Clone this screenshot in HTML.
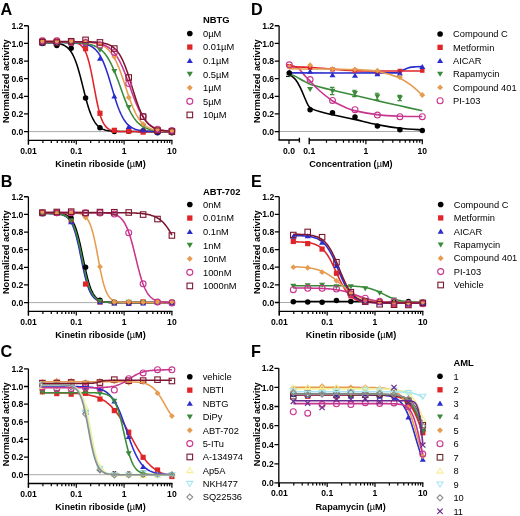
<!DOCTYPE html><html><head><meta charset="utf-8"><style>html,body{margin:0;padding:0;background:#fff;width:520px;height:516px;overflow:hidden}svg{display:block;filter:blur(0.3px)}text{font-family:"Liberation Sans",sans-serif;fill:#000}</style></head><body>
<svg width="520" height="516" viewBox="0 0 520 516">
<rect width="520" height="516" fill="#fff"/>
<text x="0.5" y="14.7" font-size="16.2" text-anchor="start" font-weight="bold" >A</text>
<text x="0.7" y="186.6" font-size="16.2" text-anchor="start" font-weight="bold" >B</text>
<text x="0.5" y="357.4" font-size="16.2" text-anchor="start" font-weight="bold" >C</text>
<text x="250.9" y="14.7" font-size="16.2" text-anchor="start" font-weight="bold" >D</text>
<text x="251" y="186.5" font-size="16.2" text-anchor="start" font-weight="bold" >E</text>
<text x="251" y="357.4" font-size="16.2" text-anchor="start" font-weight="bold" >F</text>
<path d="M28.5 131.6H171.9" stroke="#a0a0a0" stroke-width="0.9" fill="none"/>
<path d="M28.4 25.7V144.6" stroke="#000" stroke-width="1.3" fill="none"/>
<path d="M24 131.6H28.4M24 113.96H28.4M24 96.32H28.4M24 78.68H28.4M24 61.04H28.4M24 43.4H28.4M24 25.76H28.4" stroke="#000" stroke-width="1.3" fill="none"/>
<text x="23.4" y="134.7" font-size="8.6" text-anchor="end" font-weight="bold" >0.0</text>
<text x="23.4" y="117.06" font-size="8.6" text-anchor="end" font-weight="bold" >0.2</text>
<text x="23.4" y="99.42" font-size="8.6" text-anchor="end" font-weight="bold" >0.4</text>
<text x="23.4" y="81.78" font-size="8.6" text-anchor="end" font-weight="bold" >0.6</text>
<text x="23.4" y="64.14" font-size="8.6" text-anchor="end" font-weight="bold" >0.8</text>
<text x="23.4" y="46.5" font-size="8.6" text-anchor="end" font-weight="bold" >1.0</text>
<text x="23.4" y="28.86" font-size="8.6" text-anchor="end" font-weight="bold" >1.2</text>
<path d="M27.85 140.4H172.55" stroke="#000" stroke-width="1.4" fill="none"/>
<path d="M28.5 140.4V144.6M42.89 140.4V143.1M51.31 140.4V143.1M57.28 140.4V143.1M61.91 140.4V143.1M65.7 140.4V143.1M68.9 140.4V143.1M71.67 140.4V143.1M74.11 140.4V143.1M76.3 140.4V144.6M90.69 140.4V143.1M99.11 140.4V143.1M105.08 140.4V143.1M109.71 140.4V143.1M113.5 140.4V143.1M116.7 140.4V143.1M119.47 140.4V143.1M121.91 140.4V143.1M124.1 140.4V144.6M138.49 140.4V143.1M146.91 140.4V143.1M152.88 140.4V143.1M157.51 140.4V143.1M161.3 140.4V143.1M164.5 140.4V143.1M167.27 140.4V143.1M169.71 140.4V143.1M171.9 140.4V144.6" stroke="#000" stroke-width="1.2" fill="none"/>
<text x="28.5" y="153.6" font-size="8.6" text-anchor="middle" font-weight="bold" >0.01</text>
<text x="76.3" y="153.6" font-size="8.6" text-anchor="middle" font-weight="bold" >0.1</text>
<text x="124.1" y="153.6" font-size="8.6" text-anchor="middle" font-weight="bold" >1</text>
<text x="171.9" y="153.6" font-size="8.6" text-anchor="middle" font-weight="bold" >10</text>
<text transform="translate(9.4 81.2) rotate(-90)" x="0" y="0" font-size="9.2" text-anchor="middle" font-weight="bold">Normalized activity</text>
<text x="100.5" y="167" font-size="9.15" text-anchor="middle" font-weight="bold" >Kinetin riboside (<tspan font-weight="normal">µ</tspan>M)</text>
<path d="M42.36 42.58L43.44 42.59L44.52 42.6L45.6 42.62L46.68 42.64L47.76 42.67L48.84 42.7L49.92 42.74L51 42.79L52.08 42.85L53.16 42.92L54.24 43.01L55.32 43.12L56.4 43.24L57.48 43.4L58.56 43.58L59.64 43.81L60.71 44.08L61.79 44.41L62.87 44.81L63.95 45.29L65.03 45.87L66.11 46.55L67.19 47.37L68.27 48.35L69.35 49.51L70.43 50.87L71.51 52.47L72.59 54.33L73.67 56.47L74.75 58.93L75.83 61.7L76.91 64.8L77.99 68.21L79.07 71.91L80.15 75.87L81.22 80.03L82.3 84.32L83.38 88.66L84.46 92.96L85.54 97.16L86.62 101.18L87.7 104.96L88.78 108.45L89.86 111.63L90.94 114.49L92.02 117.03L93.1 119.25L94.18 121.18L95.26 122.85L96.34 124.27L97.42 125.48L98.5 126.5L99.58 127.36L100.66 128.08L101.73 128.69L102.81 129.19L103.89 129.61L104.97 129.95L106.05 130.24L107.13 130.48L108.21 130.67L109.29 130.84L110.37 130.97L111.45 131.08L112.53 131.17L113.61 131.25L114.69 131.31L115.77 131.36L116.85 131.4L117.93 131.44L119.01 131.47L120.09 131.49L121.16 131.51L122.24 131.53L123.32 131.54L124.4 131.55L125.48 131.56L126.56 131.57L127.64 131.57L128.72 131.58L129.8 131.58L130.88 131.58L131.96 131.59L133.04 131.59L134.12 131.59L135.2 131.59L136.28 131.59L137.36 131.6L138.44 131.6L139.52 131.6L140.6 131.6L141.67 131.6L142.75 131.6L143.83 131.6L144.91 131.6L145.99 131.6L147.07 131.6L148.15 131.6L149.23 131.6L150.31 131.6L151.39 131.6L152.47 131.6L153.55 131.6L154.63 131.6L155.71 131.6L156.79 131.6L157.87 131.6L158.95 131.6L160.03 131.6L161.11 131.6L162.18 131.6L163.26 131.6L164.34 131.6L165.42 131.6L166.5 131.6L167.58 131.6L168.66 131.6L169.74 131.6L170.82 131.6L171.9 131.6" stroke="#000000" stroke-width="1.55" fill="none"/>
<path d="M42.36 41.64L43.44 41.64L44.52 41.64L45.6 41.64L46.68 41.64L47.76 41.64L48.84 41.64L49.92 41.64L51 41.64L52.08 41.64L53.16 41.64L54.24 41.64L55.32 41.64L56.4 41.65L57.48 41.65L58.56 41.65L59.64 41.66L60.71 41.67L61.79 41.67L62.87 41.69L63.95 41.7L65.03 41.72L66.11 41.74L67.19 41.78L68.27 41.82L69.35 41.87L70.43 41.94L71.51 42.03L72.59 42.15L73.67 42.3L74.75 42.49L75.83 42.74L76.91 43.07L77.99 43.48L79.07 44.01L80.15 44.7L81.22 45.57L82.3 46.67L83.38 48.06L84.46 49.79L85.54 51.93L86.62 54.55L87.7 57.7L88.78 61.42L89.86 65.73L90.94 70.58L92.02 75.9L93.1 81.56L94.18 87.38L95.26 93.18L96.34 98.77L97.42 103.98L98.5 108.69L99.58 112.84L100.66 116.41L101.73 119.42L102.81 121.91L103.89 123.94L104.97 125.57L106.05 126.88L107.13 127.92L108.21 128.73L109.29 129.37L110.37 129.87L111.45 130.26L112.53 130.57L113.61 130.8L114.69 130.98L115.77 131.12L116.85 131.23L117.93 131.32L119.01 131.38L120.09 131.43L121.16 131.47L122.24 131.5L123.32 131.52L124.4 131.54L125.48 131.55L126.56 131.56L127.64 131.57L128.72 131.58L129.8 131.58L130.88 131.59L131.96 131.59L133.04 131.59L134.12 131.59L135.2 131.6L136.28 131.6L137.36 131.6L138.44 131.6L139.52 131.6L140.6 131.6L141.67 131.6L142.75 131.6L143.83 131.6L144.91 131.6L145.99 131.6L147.07 131.6L148.15 131.6L149.23 131.6L150.31 131.6L151.39 131.6L152.47 131.6L153.55 131.6L154.63 131.6L155.71 131.6L156.79 131.6L157.87 131.6L158.95 131.6L160.03 131.6L161.11 131.6L162.18 131.6L163.26 131.6L164.34 131.6L165.42 131.6L166.5 131.6L167.58 131.6L168.66 131.6L169.74 131.6L170.82 131.6L171.9 131.6" stroke="#e02428" stroke-width="1.55" fill="none"/>
<path d="M42.36 42.52L43.44 42.52L44.52 42.52L45.6 42.52L46.68 42.52L47.76 42.52L48.84 42.52L49.92 42.53L51 42.53L52.08 42.53L53.16 42.53L54.24 42.53L55.32 42.54L56.4 42.54L57.48 42.54L58.56 42.55L59.64 42.55L60.71 42.56L61.79 42.56L62.87 42.57L63.95 42.58L65.03 42.59L66.11 42.61L67.19 42.62L68.27 42.64L69.35 42.66L70.43 42.69L71.51 42.72L72.59 42.75L73.67 42.8L74.75 42.84L75.83 42.9L76.91 42.97L77.99 43.05L79.07 43.14L80.15 43.25L81.22 43.38L82.3 43.54L83.38 43.72L84.46 43.93L85.54 44.17L86.62 44.46L87.7 44.8L88.78 45.19L89.86 45.65L90.94 46.18L92.02 46.8L93.1 47.52L94.18 48.36L95.26 49.32L96.34 50.42L97.42 51.68L98.5 53.12L99.58 54.75L100.66 56.58L101.73 58.63L102.81 60.9L103.89 63.41L104.97 66.14L106.05 69.09L107.13 72.24L108.21 75.57L109.29 79.04L110.37 82.62L111.45 86.25L112.53 89.89L113.61 93.5L114.69 97.02L115.77 100.42L116.85 103.65L117.93 106.69L119.01 109.52L120.09 112.13L121.16 114.51L122.24 116.66L123.32 118.58L124.4 120.3L125.48 121.82L126.56 123.16L127.64 124.33L128.72 125.35L129.8 126.24L130.88 127.01L131.96 127.67L133.04 128.24L134.12 128.73L135.2 129.15L136.28 129.51L137.36 129.82L138.44 130.09L139.52 130.31L140.6 130.5L141.67 130.67L142.75 130.81L143.83 130.93L144.91 131.03L145.99 131.11L147.07 131.19L148.15 131.25L149.23 131.3L150.31 131.35L151.39 131.38L152.47 131.42L153.55 131.44L154.63 131.47L155.71 131.49L156.79 131.51L157.87 131.52L158.95 131.53L160.03 131.54L161.11 131.55L162.18 131.56L163.26 131.56L164.34 131.57L165.42 131.57L166.5 131.58L167.58 131.58L168.66 131.58L169.74 131.59L170.82 131.59L171.9 131.59" stroke="#2a2ccc" stroke-width="1.55" fill="none"/>
<path d="M42.36 42.52L43.44 42.52L44.52 42.52L45.6 42.53L46.68 42.53L47.76 42.53L48.84 42.53L49.92 42.53L51 42.53L52.08 42.54L53.16 42.54L54.24 42.54L55.32 42.54L56.4 42.55L57.48 42.55L58.56 42.56L59.64 42.56L60.71 42.57L61.79 42.58L62.87 42.58L63.95 42.59L65.03 42.61L66.11 42.62L67.19 42.63L68.27 42.65L69.35 42.67L70.43 42.69L71.51 42.71L72.59 42.74L73.67 42.77L74.75 42.81L75.83 42.85L76.91 42.9L77.99 42.96L79.07 43.02L80.15 43.09L81.22 43.18L82.3 43.27L83.38 43.38L84.46 43.5L85.54 43.64L86.62 43.8L87.7 43.98L88.78 44.19L89.86 44.43L90.94 44.7L92.02 45.01L93.1 45.36L94.18 45.75L95.26 46.2L96.34 46.71L97.42 47.28L98.5 47.93L99.58 48.66L100.66 49.48L101.73 50.4L102.81 51.43L103.89 52.57L104.97 53.84L106.05 55.25L107.13 56.79L108.21 58.49L109.29 60.34L110.37 62.35L111.45 64.51L112.53 66.82L113.61 69.28L114.69 71.88L115.77 74.6L116.85 77.42L117.93 80.33L119.01 83.3L120.09 86.3L121.16 89.31L122.24 92.3L123.32 95.24L124.4 98.11L125.48 100.89L126.56 103.55L127.64 106.08L128.72 108.47L129.8 110.71L130.88 112.79L131.96 114.72L133.04 116.49L134.12 118.11L135.2 119.59L136.28 120.93L137.36 122.13L138.44 123.22L139.52 124.19L140.6 125.06L141.67 125.83L142.75 126.52L143.83 127.13L144.91 127.67L145.99 128.15L147.07 128.57L148.15 128.94L149.23 129.27L150.31 129.56L151.39 129.81L152.47 130.03L153.55 130.23L154.63 130.4L155.71 130.55L156.79 130.68L157.87 130.8L158.95 130.9L160.03 130.98L161.11 131.06L162.18 131.13L163.26 131.19L164.34 131.24L165.42 131.29L166.5 131.33L167.58 131.36L168.66 131.39L169.74 131.42L170.82 131.44L171.9 131.46" stroke="#3a8a3a" stroke-width="1.55" fill="none"/>
<path d="M42.36 41.64L43.44 41.64L44.52 41.64L45.6 41.64L46.68 41.64L47.76 41.64L48.84 41.64L49.92 41.64L51 41.64L52.08 41.64L53.16 41.64L54.24 41.64L55.32 41.64L56.4 41.64L57.48 41.65L58.56 41.65L59.64 41.65L60.71 41.65L61.79 41.65L62.87 41.66L63.95 41.66L65.03 41.66L66.11 41.67L67.19 41.67L68.27 41.68L69.35 41.68L70.43 41.69L71.51 41.7L72.59 41.71L73.67 41.72L74.75 41.73L75.83 41.75L76.91 41.76L77.99 41.78L79.07 41.81L80.15 41.83L81.22 41.86L82.3 41.9L83.38 41.94L84.46 41.99L85.54 42.04L86.62 42.11L87.7 42.18L88.78 42.27L89.86 42.36L90.94 42.48L92.02 42.61L93.1 42.76L94.18 42.93L95.26 43.13L96.34 43.36L97.42 43.63L98.5 43.93L99.58 44.28L100.66 44.68L101.73 45.14L102.81 45.66L103.89 46.26L104.97 46.94L106.05 47.72L107.13 48.6L108.21 49.59L109.29 50.72L110.37 51.98L111.45 53.38L112.53 54.95L113.61 56.69L114.69 58.61L115.77 60.7L116.85 62.98L117.93 65.44L119.01 68.08L120.09 70.87L121.16 73.82L122.24 76.88L123.32 80.05L124.4 83.28L125.48 86.55L126.56 89.82L127.64 93.06L128.72 96.23L129.8 99.3L130.88 102.25L131.96 105.05L133.04 107.69L134.12 110.16L135.2 112.45L136.28 114.55L137.36 116.47L138.44 118.22L139.52 119.79L140.6 121.21L141.67 122.47L142.75 123.6L143.83 124.6L144.91 125.48L145.99 126.26L147.07 126.95L148.15 127.55L149.23 128.08L150.31 128.54L151.39 128.94L152.47 129.29L153.55 129.6L154.63 129.86L155.71 130.1L156.79 130.3L157.87 130.47L158.95 130.62L160.03 130.75L161.11 130.87L162.18 130.97L163.26 131.05L164.34 131.13L165.42 131.19L166.5 131.24L167.58 131.29L168.66 131.33L169.74 131.37L170.82 131.4L171.9 131.43" stroke="#e69c50" stroke-width="1.55" fill="none"/>
<path d="M42.36 41.64L43.44 41.64L44.52 41.64L45.6 41.64L46.68 41.64L47.76 41.64L48.84 41.64L49.92 41.64L51 41.64L52.08 41.64L53.16 41.64L54.24 41.64L55.32 41.64L56.4 41.65L57.48 41.65L58.56 41.65L59.64 41.65L60.71 41.65L61.79 41.65L62.87 41.66L63.95 41.66L65.03 41.66L66.11 41.67L67.19 41.67L68.27 41.68L69.35 41.68L70.43 41.69L71.51 41.7L72.59 41.7L73.67 41.71L74.75 41.73L75.83 41.74L76.91 41.75L77.99 41.77L79.07 41.79L80.15 41.81L81.22 41.84L82.3 41.87L83.38 41.9L84.46 41.94L85.54 41.98L86.62 42.03L87.7 42.09L88.78 42.16L89.86 42.23L90.94 42.32L92.02 42.42L93.1 42.53L94.18 42.65L95.26 42.8L96.34 42.97L97.42 43.16L98.5 43.37L99.58 43.62L100.66 43.9L101.73 44.21L102.81 44.58L103.89 44.99L104.97 45.45L106.05 45.98L107.13 46.57L108.21 47.24L109.29 47.99L110.37 48.84L111.45 49.79L112.53 50.85L113.61 52.03L114.69 53.33L115.77 54.78L116.85 56.37L117.93 58.11L119.01 60.01L120.09 62.07L121.16 64.28L122.24 66.65L123.32 69.16L124.4 71.81L125.48 74.58L126.56 77.45L127.64 80.4L128.72 83.41L129.8 86.44L130.88 89.48L131.96 92.49L133.04 95.45L134.12 98.33L135.2 101.11L136.28 103.77L137.36 106.3L138.44 108.69L139.52 110.92L140.6 112.99L141.67 114.91L142.75 116.67L143.83 118.28L144.91 119.74L145.99 121.06L147.07 122.26L148.15 123.33L149.23 124.29L150.31 125.15L151.39 125.91L152.47 126.59L153.55 127.2L154.63 127.73L155.71 128.2L156.79 128.62L157.87 128.98L158.95 129.3L160.03 129.59L161.11 129.84L162.18 130.06L163.26 130.25L164.34 130.42L165.42 130.57L166.5 130.69L167.58 130.81L168.66 130.91L169.74 130.99L170.82 131.07L171.9 131.14" stroke="#c8348e" stroke-width="1.55" fill="none"/>
<path d="M42.36 41.64L43.44 41.64L44.52 41.64L45.6 41.64L46.68 41.64L47.76 41.64L48.84 41.64L49.92 41.64L51 41.64L52.08 41.64L53.16 41.64L54.24 41.64L55.32 41.64L56.4 41.64L57.48 41.64L58.56 41.64L59.64 41.64L60.71 41.64L61.79 41.64L62.87 41.64L63.95 41.64L65.03 41.64L66.11 41.64L67.19 41.64L68.27 41.65L69.35 41.65L70.43 41.65L71.51 41.65L72.59 41.65L73.67 41.66L74.75 41.66L75.83 41.66L76.91 41.67L77.99 41.67L79.07 41.68L80.15 41.69L81.22 41.69L82.3 41.7L83.38 41.72L84.46 41.73L85.54 41.75L86.62 41.76L87.7 41.79L88.78 41.81L89.86 41.84L90.94 41.88L92.02 41.92L93.1 41.96L94.18 42.02L95.26 42.08L96.34 42.16L97.42 42.24L98.5 42.34L99.58 42.46L100.66 42.6L101.73 42.76L102.81 42.95L103.89 43.17L104.97 43.42L106.05 43.72L107.13 44.06L108.21 44.45L109.29 44.91L110.37 45.44L111.45 46.05L112.53 46.76L113.61 47.56L114.69 48.49L115.77 49.54L116.85 50.74L117.93 52.1L119.01 53.63L120.09 55.35L121.16 57.26L122.24 59.38L123.32 61.71L124.4 64.25L125.48 66.99L126.56 69.92L127.64 73.03L128.72 76.29L129.8 79.67L130.88 83.13L131.96 86.63L133.04 90.13L134.12 93.59L135.2 96.97L136.28 100.22L137.36 103.33L138.44 106.27L139.52 109.01L140.6 111.54L141.67 113.87L142.75 115.98L143.83 117.9L144.91 119.61L145.99 121.14L147.07 122.5L148.15 123.7L149.23 124.75L150.31 125.68L151.39 126.48L152.47 127.19L153.55 127.8L154.63 128.33L155.71 128.78L156.79 129.18L157.87 129.52L158.95 129.82L160.03 130.07L161.11 130.29L162.18 130.47L163.26 130.64L164.34 130.77L165.42 130.89L166.5 130.99L167.58 131.08L168.66 131.16L169.74 131.22L170.82 131.27L171.9 131.32" stroke="#7c1630" stroke-width="1.55" fill="none"/>
<circle cx="42.4" cy="43.54" r="2.75" fill="#000000"/>
<circle cx="56.79" cy="45.6" r="2.75" fill="#000000"/>
<circle cx="71.18" cy="48.25" r="2.75" fill="#000000"/>
<circle cx="85.56" cy="97.9" r="2.75" fill="#000000"/>
<circle cx="99.95" cy="127.64" r="2.75" fill="#000000"/>
<circle cx="114.34" cy="131.43" r="2.75" fill="#000000"/>
<circle cx="128.73" cy="131.18" r="2.75" fill="#000000"/>
<circle cx="143.12" cy="130.83" r="2.75" fill="#000000"/>
<circle cx="157.51" cy="132.67" r="2.75" fill="#000000"/>
<circle cx="171.9" cy="132.85" r="2.75" fill="#000000"/>
<rect x="39.8" y="37.83" width="5.2" height="5.2" fill="#e02428"/>
<rect x="54.19" y="37.86" width="5.2" height="5.2" fill="#e02428"/>
<rect x="68.58" y="40.57" width="5.2" height="5.2" fill="#e02428"/>
<rect x="82.96" y="46.09" width="5.2" height="5.2" fill="#e02428"/>
<rect x="97.35" y="110.67" width="5.2" height="5.2" fill="#e02428"/>
<rect x="111.74" y="127.7" width="5.2" height="5.2" fill="#e02428"/>
<rect x="126.13" y="128.53" width="5.2" height="5.2" fill="#e02428"/>
<rect x="140.52" y="129.51" width="5.2" height="5.2" fill="#e02428"/>
<rect x="154.91" y="128.72" width="5.2" height="5.2" fill="#e02428"/>
<rect x="169.3" y="128.72" width="5.2" height="5.2" fill="#e02428"/>
<polygon points="42.4,40.51 45.4,45.51 39.4,45.51" fill="#2a2ccc"/>
<polygon points="56.79,39.72 59.79,44.72 53.79,44.72" fill="#2a2ccc"/>
<polygon points="71.18,40.35 74.18,45.35 68.18,45.35" fill="#2a2ccc"/>
<polygon points="85.56,41.2 88.56,46.2 82.56,46.2" fill="#2a2ccc"/>
<polygon points="99.95,55.69 102.95,60.69 96.95,60.69" fill="#2a2ccc"/>
<polygon points="114.34,93.62 117.34,98.61 111.34,98.61" fill="#2a2ccc"/>
<polygon points="128.73,123.95 131.73,128.94 125.73,128.94" fill="#2a2ccc"/>
<polygon points="143.12,127.26 146.12,132.25 140.12,132.25" fill="#2a2ccc"/>
<polygon points="157.51,129.45 160.51,134.45 154.51,134.45" fill="#2a2ccc"/>
<polygon points="171.9,129.59 174.9,134.59 168.9,134.59" fill="#2a2ccc"/>
<polygon points="42.4,45.92 45.4,40.93 39.4,40.93" fill="#3a8a3a"/>
<polygon points="56.79,46.3 59.79,41.3 53.79,41.3" fill="#3a8a3a"/>
<polygon points="71.18,45.68 74.18,40.69 68.18,40.69" fill="#3a8a3a"/>
<polygon points="85.56,47.26 88.56,42.26 82.56,42.26" fill="#3a8a3a"/>
<polygon points="99.95,52.78 102.95,47.79 96.95,47.79" fill="#3a8a3a"/>
<polygon points="114.34,74 117.34,69 111.34,69" fill="#3a8a3a"/>
<polygon points="128.73,110.08 131.73,105.09 125.73,105.09" fill="#3a8a3a"/>
<polygon points="143.12,128.64 146.12,123.64 140.12,123.64" fill="#3a8a3a"/>
<polygon points="157.51,132.76 160.51,127.76 154.51,127.76" fill="#3a8a3a"/>
<polygon points="171.9,134.9 174.9,129.9 168.9,129.9" fill="#3a8a3a"/>
<polygon points="42.4,38.41 45.3,41.31 42.4,44.21 39.5,41.31" fill="#e69c50"/>
<polygon points="56.79,38.1 59.69,41 56.79,43.9 53.89,41" fill="#e69c50"/>
<polygon points="71.18,38.01 74.08,40.91 71.18,43.81 68.28,40.91" fill="#e69c50"/>
<polygon points="85.56,37.98 88.46,40.88 85.56,43.78 82.66,40.88" fill="#e69c50"/>
<polygon points="99.95,40.88 102.85,43.78 99.95,46.68 97.05,43.78" fill="#e69c50"/>
<polygon points="114.34,53.96 117.24,56.86 114.34,59.76 111.44,56.86" fill="#e69c50"/>
<polygon points="128.73,94.6 131.63,97.5 128.73,100.4 125.83,97.5" fill="#e69c50"/>
<polygon points="143.12,121.14 146.02,124.04 143.12,126.94 140.22,124.04" fill="#e69c50"/>
<polygon points="157.51,126.34 160.41,129.24 157.51,132.14 154.61,129.24" fill="#e69c50"/>
<polygon points="171.9,128.13 174.8,131.03 171.9,133.93 169,131.03" fill="#e69c50"/>
<circle cx="42.4" cy="40.86" r="2.95" fill="none" stroke="#c8348e" stroke-width="1.1"/>
<circle cx="56.79" cy="40.79" r="2.95" fill="none" stroke="#c8348e" stroke-width="1.1"/>
<circle cx="71.18" cy="41.73" r="2.95" fill="none" stroke="#c8348e" stroke-width="1.1"/>
<circle cx="85.56" cy="42.62" r="2.95" fill="none" stroke="#c8348e" stroke-width="1.1"/>
<circle cx="99.95" cy="45.03" r="2.95" fill="none" stroke="#c8348e" stroke-width="1.1"/>
<circle cx="114.34" cy="52.47" r="2.95" fill="none" stroke="#c8348e" stroke-width="1.1"/>
<circle cx="128.73" cy="83.52" r="2.95" fill="none" stroke="#c8348e" stroke-width="1.1"/>
<circle cx="143.12" cy="116.55" r="2.95" fill="none" stroke="#c8348e" stroke-width="1.1"/>
<circle cx="157.51" cy="129.2" r="2.95" fill="none" stroke="#c8348e" stroke-width="1.1"/>
<circle cx="171.9" cy="130.42" r="2.95" fill="none" stroke="#c8348e" stroke-width="1.1"/>
<rect x="39.65" y="39.35" width="5.5" height="5.5" fill="none" stroke="#7c1630" stroke-width="1.1"/>
<rect x="54.04" y="39.81" width="5.5" height="5.5" fill="none" stroke="#7c1630" stroke-width="1.1"/>
<rect x="68.43" y="38.5" width="5.5" height="5.5" fill="none" stroke="#7c1630" stroke-width="1.1"/>
<rect x="82.81" y="37.12" width="5.5" height="5.5" fill="none" stroke="#7c1630" stroke-width="1.1"/>
<rect x="97.2" y="39.66" width="5.5" height="5.5" fill="none" stroke="#7c1630" stroke-width="1.1"/>
<rect x="111.59" y="45.79" width="5.5" height="5.5" fill="none" stroke="#7c1630" stroke-width="1.1"/>
<rect x="125.98" y="74.74" width="5.5" height="5.5" fill="none" stroke="#7c1630" stroke-width="1.1"/>
<rect x="140.37" y="113.89" width="5.5" height="5.5" fill="none" stroke="#7c1630" stroke-width="1.1"/>
<rect x="154.76" y="127.89" width="5.5" height="5.5" fill="none" stroke="#7c1630" stroke-width="1.1"/>
<rect x="169.15" y="128.75" width="5.5" height="5.5" fill="none" stroke="#7c1630" stroke-width="1.1"/>
<text x="203" y="23.4" font-size="9.4" text-anchor="start" font-weight="bold" >NBTG</text>
<circle cx="189.8" cy="33.5" r="2.81" fill="#000000"/>
<text x="203" y="36.8" font-size="9.3" text-anchor="start" font-weight="normal" >0µM</text>
<rect x="187.15" y="44.42" width="5.3" height="5.3" fill="#e02428"/>
<text x="203" y="50.37" font-size="9.3" text-anchor="start" font-weight="normal" >0.01µM</text>
<polygon points="189.8,57.89 192.86,62.98 186.74,62.98" fill="#2a2ccc"/>
<text x="203" y="63.94" font-size="9.3" text-anchor="start" font-weight="normal" >0.1µM</text>
<polygon points="189.8,76.96 192.86,71.87 186.74,71.87" fill="#3a8a3a"/>
<text x="203" y="77.51" font-size="9.3" text-anchor="start" font-weight="normal" >0.5µM</text>
<polygon points="189.8,84.82 192.76,87.78 189.8,90.74 186.84,87.78" fill="#e69c50"/>
<text x="203" y="91.08" font-size="9.3" text-anchor="start" font-weight="normal" >1µM</text>
<circle cx="189.8" cy="101.35" r="3.01" fill="none" stroke="#c8348e" stroke-width="1.1"/>
<text x="203" y="104.65" font-size="9.3" text-anchor="start" font-weight="normal" >5µM</text>
<rect x="187" y="112.11" width="5.61" height="5.61" fill="none" stroke="#7c1630" stroke-width="1.1"/>
<text x="203" y="118.22" font-size="9.3" text-anchor="start" font-weight="normal" >10µM</text>
<path d="M28.5 302.6H171.9" stroke="#a0a0a0" stroke-width="0.9" fill="none"/>
<path d="M28.4 196.7V315.6" stroke="#000" stroke-width="1.3" fill="none"/>
<path d="M24 302.6H28.4M24 284.96H28.4M24 267.32H28.4M24 249.68H28.4M24 232.04H28.4M24 214.4H28.4M24 196.76H28.4" stroke="#000" stroke-width="1.3" fill="none"/>
<text x="23.4" y="305.7" font-size="8.6" text-anchor="end" font-weight="bold" >0.0</text>
<text x="23.4" y="288.06" font-size="8.6" text-anchor="end" font-weight="bold" >0.2</text>
<text x="23.4" y="270.42" font-size="8.6" text-anchor="end" font-weight="bold" >0.4</text>
<text x="23.4" y="252.78" font-size="8.6" text-anchor="end" font-weight="bold" >0.6</text>
<text x="23.4" y="235.14" font-size="8.6" text-anchor="end" font-weight="bold" >0.8</text>
<text x="23.4" y="217.5" font-size="8.6" text-anchor="end" font-weight="bold" >1.0</text>
<text x="23.4" y="199.86" font-size="8.6" text-anchor="end" font-weight="bold" >1.2</text>
<path d="M27.85 311.4H172.55" stroke="#000" stroke-width="1.4" fill="none"/>
<path d="M28.5 311.4V315.6M42.89 311.4V314.1M51.31 311.4V314.1M57.28 311.4V314.1M61.91 311.4V314.1M65.7 311.4V314.1M68.9 311.4V314.1M71.67 311.4V314.1M74.11 311.4V314.1M76.3 311.4V315.6M90.69 311.4V314.1M99.11 311.4V314.1M105.08 311.4V314.1M109.71 311.4V314.1M113.5 311.4V314.1M116.7 311.4V314.1M119.47 311.4V314.1M121.91 311.4V314.1M124.1 311.4V315.6M138.49 311.4V314.1M146.91 311.4V314.1M152.88 311.4V314.1M157.51 311.4V314.1M161.3 311.4V314.1M164.5 311.4V314.1M167.27 311.4V314.1M169.71 311.4V314.1M171.9 311.4V315.6" stroke="#000" stroke-width="1.2" fill="none"/>
<text x="28.5" y="324.6" font-size="8.6" text-anchor="middle" font-weight="bold" >0.01</text>
<text x="76.3" y="324.6" font-size="8.6" text-anchor="middle" font-weight="bold" >0.1</text>
<text x="124.1" y="324.6" font-size="8.6" text-anchor="middle" font-weight="bold" >1</text>
<text x="171.9" y="324.6" font-size="8.6" text-anchor="middle" font-weight="bold" >10</text>
<text transform="translate(9.4 252.2) rotate(-90)" x="0" y="0" font-size="9.2" text-anchor="middle" font-weight="bold">Normalized activity</text>
<text x="100.5" y="338.1" font-size="9.15" text-anchor="middle" font-weight="bold" >Kinetin riboside (<tspan font-weight="normal">µ</tspan>M)</text>
<path d="M42.36 212.65L43.44 212.65L44.52 212.66L45.6 212.66L46.68 212.67L47.76 212.68L48.84 212.69L49.92 212.71L51 212.72L52.08 212.75L53.16 212.78L54.24 212.81L55.32 212.86L56.4 212.92L57.48 212.99L58.56 213.08L59.64 213.2L60.71 213.35L61.79 213.54L62.87 213.77L63.95 214.07L65.03 214.44L66.11 214.9L67.19 215.48L68.27 216.19L69.35 217.09L70.43 218.19L71.51 219.54L72.59 221.18L73.67 223.17L74.75 225.55L75.83 228.36L76.91 231.63L77.99 235.38L79.07 239.58L80.15 244.19L81.22 249.13L82.3 254.3L83.38 259.55L84.46 264.76L85.54 269.77L86.62 274.48L87.7 278.79L88.78 282.66L89.86 286.06L90.94 288.98L92.02 291.47L93.1 293.56L94.18 295.29L95.26 296.72L96.34 297.88L97.42 298.82L98.5 299.59L99.58 300.2L100.66 300.69L101.73 301.08L102.81 301.39L103.89 301.64L104.97 301.84L106.05 302L107.13 302.12L108.21 302.22L109.29 302.3L110.37 302.36L111.45 302.41L112.53 302.45L113.61 302.48L114.69 302.51L115.77 302.53L116.85 302.54L117.93 302.55L119.01 302.56L120.09 302.57L121.16 302.58L122.24 302.58L123.32 302.59L124.4 302.59L125.48 302.59L126.56 302.59L127.64 302.59L128.72 302.6L129.8 302.6L130.88 302.6L131.96 302.6L133.04 302.6L134.12 302.6L135.2 302.6L136.28 302.6L137.36 302.6L138.44 302.6L139.52 302.6L140.6 302.6L141.67 302.6L142.75 302.6L143.83 302.6L144.91 302.6L145.99 302.6L147.07 302.6L148.15 302.6L149.23 302.6L150.31 302.6L151.39 302.6L152.47 302.6L153.55 302.6L154.63 302.6L155.71 302.6L156.79 302.6L157.87 302.6L158.95 302.6L160.03 302.6L161.11 302.6L162.18 302.6L163.26 302.6L164.34 302.6L165.42 302.6L166.5 302.6L167.58 302.6L168.66 302.6L169.74 302.6L170.82 302.6L171.9 302.6" stroke="#000000" stroke-width="1.55" fill="none"/>
<path d="M42.36 212.65L43.44 212.66L44.52 212.67L45.6 212.67L46.68 212.68L47.76 212.7L48.84 212.71L49.92 212.73L51 212.76L52.08 212.79L53.16 212.83L54.24 212.88L55.32 212.95L56.4 213.03L57.48 213.13L58.56 213.26L59.64 213.43L60.71 213.63L61.79 213.89L62.87 214.22L63.95 214.63L65.03 215.14L66.11 215.78L67.19 216.57L68.27 217.55L69.35 218.76L70.43 220.23L71.51 222.03L72.59 224.19L73.67 226.75L74.75 229.77L75.83 233.25L76.91 237.2L77.99 241.59L79.07 246.36L80.15 251.42L81.22 256.64L82.3 261.89L83.38 267.03L84.46 271.92L85.54 276.46L86.62 280.58L87.7 284.23L88.78 287.42L89.86 290.15L90.94 292.45L92.02 294.38L93.1 295.97L94.18 297.27L95.26 298.33L96.34 299.19L97.42 299.88L98.5 300.43L99.58 300.87L100.66 301.23L101.73 301.51L102.81 301.74L103.89 301.92L104.97 302.06L106.05 302.17L107.13 302.26L108.21 302.33L109.29 302.39L110.37 302.43L111.45 302.47L112.53 302.49L113.61 302.52L114.69 302.53L115.77 302.55L116.85 302.56L117.93 302.57L119.01 302.57L120.09 302.58L121.16 302.58L122.24 302.59L123.32 302.59L124.4 302.59L125.48 302.59L126.56 302.59L127.64 302.6L128.72 302.6L129.8 302.6L130.88 302.6L131.96 302.6L133.04 302.6L134.12 302.6L135.2 302.6L136.28 302.6L137.36 302.6L138.44 302.6L139.52 302.6L140.6 302.6L141.67 302.6L142.75 302.6L143.83 302.6L144.91 302.6L145.99 302.6L147.07 302.6L148.15 302.6L149.23 302.6L150.31 302.6L151.39 302.6L152.47 302.6L153.55 302.6L154.63 302.6L155.71 302.6L156.79 302.6L157.87 302.6L158.95 302.6L160.03 302.6L161.11 302.6L162.18 302.6L163.26 302.6L164.34 302.6L165.42 302.6L166.5 302.6L167.58 302.6L168.66 302.6L169.74 302.6L170.82 302.6L171.9 302.6" stroke="#e02428" stroke-width="1.55" fill="none"/>
<path d="M42.36 213.53L43.44 213.54L44.52 213.54L45.6 213.55L46.68 213.56L47.76 213.57L48.84 213.59L49.92 213.61L51 213.63L52.08 213.66L53.16 213.7L54.24 213.75L55.32 213.81L56.4 213.89L57.48 213.99L58.56 214.12L59.64 214.28L60.71 214.48L61.79 214.74L62.87 215.06L63.95 215.47L65.03 215.98L66.11 216.62L67.19 217.43L68.27 218.42L69.35 219.66L70.43 221.18L71.51 223.03L72.59 225.26L73.67 227.91L74.75 231.04L75.83 234.65L76.91 238.75L77.99 243.28L79.07 248.2L80.15 253.38L81.22 258.68L82.3 263.98L83.38 269.1L84.46 273.94L85.54 278.38L86.62 282.36L87.7 285.86L88.78 288.87L89.86 291.42L90.94 293.56L92.02 295.33L93.1 296.77L94.18 297.95L95.26 298.9L96.34 299.66L97.42 300.27L98.5 300.75L99.58 301.14L100.66 301.45L101.73 301.69L102.81 301.88L103.89 302.03L104.97 302.15L106.05 302.25L107.13 302.32L108.21 302.38L109.29 302.43L110.37 302.46L111.45 302.49L112.53 302.52L113.61 302.53L114.69 302.55L115.77 302.56L116.85 302.57L117.93 302.57L119.01 302.58L120.09 302.58L121.16 302.59L122.24 302.59L123.32 302.59L124.4 302.59L125.48 302.6L126.56 302.6L127.64 302.6L128.72 302.6L129.8 302.6L130.88 302.6L131.96 302.6L133.04 302.6L134.12 302.6L135.2 302.6L136.28 302.6L137.36 302.6L138.44 302.6L139.52 302.6L140.6 302.6L141.67 302.6L142.75 302.6L143.83 302.6L144.91 302.6L145.99 302.6L147.07 302.6L148.15 302.6L149.23 302.6L150.31 302.6L151.39 302.6L152.47 302.6L153.55 302.6L154.63 302.6L155.71 302.6L156.79 302.6L157.87 302.6L158.95 302.6L160.03 302.6L161.11 302.6L162.18 302.6L163.26 302.6L164.34 302.6L165.42 302.6L166.5 302.6L167.58 302.6L168.66 302.6L169.74 302.6L170.82 302.6L171.9 302.6" stroke="#2a2ccc" stroke-width="1.55" fill="none"/>
<path d="M42.36 213.53L43.44 213.54L44.52 213.54L45.6 213.55L46.68 213.56L47.76 213.57L48.84 213.58L49.92 213.6L51 213.62L52.08 213.65L53.16 213.69L54.24 213.73L55.32 213.79L56.4 213.86L57.48 213.95L58.56 214.06L59.64 214.2L60.71 214.38L61.79 214.61L62.87 214.89L63.95 215.24L65.03 215.68L66.11 216.24L67.19 216.93L68.27 217.78L69.35 218.84L70.43 220.14L71.51 221.73L72.59 223.64L73.67 225.94L74.75 228.66L75.83 231.83L76.91 235.47L77.99 239.56L79.07 244.08L80.15 248.93L81.22 254.02L82.3 259.22L83.38 264.39L84.46 269.39L85.54 274.1L86.62 278.43L87.7 282.33L88.78 285.76L89.86 288.72L90.94 291.25L92.02 293.37L93.1 295.14L94.18 296.59L95.26 297.78L96.34 298.74L97.42 299.52L98.5 300.14L99.58 300.64L100.66 301.04L101.73 301.36L102.81 301.62L103.89 301.82L104.97 301.98L106.05 302.11L107.13 302.21L108.21 302.29L109.29 302.36L110.37 302.41L111.45 302.45L112.53 302.48L113.61 302.5L114.69 302.52L115.77 302.54L116.85 302.55L117.93 302.56L119.01 302.57L120.09 302.58L121.16 302.58L122.24 302.59L123.32 302.59L124.4 302.59L125.48 302.59L126.56 302.59L127.64 302.6L128.72 302.6L129.8 302.6L130.88 302.6L131.96 302.6L133.04 302.6L134.12 302.6L135.2 302.6L136.28 302.6L137.36 302.6L138.44 302.6L139.52 302.6L140.6 302.6L141.67 302.6L142.75 302.6L143.83 302.6L144.91 302.6L145.99 302.6L147.07 302.6L148.15 302.6L149.23 302.6L150.31 302.6L151.39 302.6L152.47 302.6L153.55 302.6L154.63 302.6L155.71 302.6L156.79 302.6L157.87 302.6L158.95 302.6L160.03 302.6L161.11 302.6L162.18 302.6L163.26 302.6L164.34 302.6L165.42 302.6L166.5 302.6L167.58 302.6L168.66 302.6L169.74 302.6L170.82 302.6L171.9 302.6" stroke="#3a8a3a" stroke-width="1.55" fill="none"/>
<path d="M42.36 212.64L43.44 212.64L44.52 212.64L45.6 212.64L46.68 212.64L47.76 212.64L48.84 212.64L49.92 212.64L51 212.64L52.08 212.64L53.16 212.64L54.24 212.64L55.32 212.64L56.4 212.64L57.48 212.64L58.56 212.64L59.64 212.64L60.71 212.65L61.79 212.65L62.87 212.65L63.95 212.66L65.03 212.67L66.11 212.68L67.19 212.69L68.27 212.71L69.35 212.73L70.43 212.75L71.51 212.79L72.59 212.83L73.67 212.89L74.75 212.96L75.83 213.06L76.91 213.19L77.99 213.35L79.07 213.56L80.15 213.83L81.22 214.18L82.3 214.62L83.38 215.2L84.46 215.93L85.54 216.86L86.62 218.04L87.7 219.52L88.78 221.37L89.86 223.64L90.94 226.41L92.02 229.72L93.1 233.61L94.18 238.08L95.26 243.08L96.34 248.51L97.42 254.24L98.5 260.08L99.58 265.83L100.66 271.33L101.73 276.4L102.81 280.96L103.89 284.94L104.97 288.34L106.05 291.19L107.13 293.54L108.21 295.45L109.29 296.98L110.37 298.21L111.45 299.17L112.53 299.94L113.61 300.53L114.69 301L115.77 301.36L116.85 301.64L117.93 301.86L119.01 302.03L120.09 302.16L121.16 302.26L122.24 302.34L123.32 302.4L124.4 302.44L125.48 302.48L126.56 302.51L127.64 302.53L128.72 302.54L129.8 302.56L130.88 302.57L131.96 302.57L133.04 302.58L134.12 302.58L135.2 302.59L136.28 302.59L137.36 302.59L138.44 302.59L139.52 302.6L140.6 302.6L141.67 302.6L142.75 302.6L143.83 302.6L144.91 302.6L145.99 302.6L147.07 302.6L148.15 302.6L149.23 302.6L150.31 302.6L151.39 302.6L152.47 302.6L153.55 302.6L154.63 302.6L155.71 302.6L156.79 302.6L157.87 302.6L158.95 302.6L160.03 302.6L161.11 302.6L162.18 302.6L163.26 302.6L164.34 302.6L165.42 302.6L166.5 302.6L167.58 302.6L168.66 302.6L169.74 302.6L170.82 302.6L171.9 302.6" stroke="#e69c50" stroke-width="1.55" fill="none"/>
<path d="M42.36 212.64L43.44 212.64L44.52 212.64L45.6 212.64L46.68 212.64L47.76 212.64L48.84 212.64L49.92 212.64L51 212.64L52.08 212.64L53.16 212.64L54.24 212.64L55.32 212.64L56.4 212.64L57.48 212.64L58.56 212.64L59.64 212.64L60.71 212.64L61.79 212.64L62.87 212.64L63.95 212.64L65.03 212.64L66.11 212.64L67.19 212.64L68.27 212.64L69.35 212.64L70.43 212.64L71.51 212.64L72.59 212.64L73.67 212.64L74.75 212.64L75.83 212.64L76.91 212.64L77.99 212.64L79.07 212.64L80.15 212.64L81.22 212.64L82.3 212.64L83.38 212.64L84.46 212.64L85.54 212.65L86.62 212.65L87.7 212.65L88.78 212.65L89.86 212.66L90.94 212.66L92.02 212.67L93.1 212.67L94.18 212.68L95.26 212.69L96.34 212.7L97.42 212.72L98.5 212.73L99.58 212.76L100.66 212.78L101.73 212.81L102.81 212.85L103.89 212.9L104.97 212.96L106.05 213.03L107.13 213.11L108.21 213.22L109.29 213.34L110.37 213.5L111.45 213.68L112.53 213.91L113.61 214.18L114.69 214.51L115.77 214.91L116.85 215.39L117.93 215.97L119.01 216.67L120.09 217.5L121.16 218.5L122.24 219.68L123.32 221.07L124.4 222.71L125.48 224.61L126.56 226.82L127.64 229.34L128.72 232.2L129.8 235.39L130.88 238.91L131.96 242.73L133.04 246.81L134.12 251.08L135.2 255.48L136.28 259.92L137.36 264.32L138.44 268.59L139.52 272.66L140.6 276.47L141.67 279.97L142.75 283.15L143.83 286L144.91 288.51L145.99 290.7L147.07 292.6L148.15 294.22L149.23 295.61L150.31 296.78L151.39 297.77L152.47 298.6L153.55 299.29L154.63 299.86L155.71 300.34L156.79 300.74L157.87 301.07L158.95 301.34L160.03 301.56L161.11 301.75L162.18 301.9L163.26 302.02L164.34 302.13L165.42 302.21L166.5 302.28L167.58 302.34L168.66 302.38L169.74 302.42L170.82 302.45L171.9 302.48" stroke="#c8348e" stroke-width="1.55" fill="none"/>
<path d="M42.36 212.64L43.44 212.64L44.52 212.64L45.6 212.64L46.68 212.64L47.76 212.64L48.84 212.64L49.92 212.64L51 212.64L52.08 212.64L53.16 212.64L54.24 212.64L55.32 212.64L56.4 212.64L57.48 212.64L58.56 212.64L59.64 212.64L60.71 212.64L61.79 212.64L62.87 212.64L63.95 212.64L65.03 212.64L66.11 212.64L67.19 212.64L68.27 212.64L69.35 212.64L70.43 212.64L71.51 212.64L72.59 212.64L73.67 212.64L74.75 212.64L75.83 212.64L76.91 212.64L77.99 212.64L79.07 212.64L80.15 212.64L81.22 212.64L82.3 212.64L83.38 212.64L84.46 212.64L85.54 212.64L86.62 212.64L87.7 212.64L88.78 212.64L89.86 212.64L90.94 212.64L92.02 212.64L93.1 212.64L94.18 212.64L95.26 212.64L96.34 212.64L97.42 212.64L98.5 212.64L99.58 212.64L100.66 212.64L101.73 212.65L102.81 212.65L103.89 212.65L104.97 212.65L106.05 212.65L107.13 212.65L108.21 212.66L109.29 212.66L110.37 212.66L111.45 212.66L112.53 212.67L113.61 212.67L114.69 212.68L115.77 212.68L116.85 212.69L117.93 212.7L119.01 212.7L120.09 212.71L121.16 212.72L122.24 212.74L123.32 212.75L124.4 212.76L125.48 212.78L126.56 212.8L127.64 212.82L128.72 212.84L129.8 212.87L130.88 212.9L131.96 212.94L133.04 212.98L134.12 213.02L135.2 213.07L136.28 213.13L137.36 213.2L138.44 213.27L139.52 213.35L140.6 213.45L141.67 213.56L142.75 213.68L143.83 213.81L144.91 213.96L145.99 214.14L147.07 214.33L148.15 214.55L149.23 214.8L150.31 215.08L151.39 215.39L152.47 215.74L153.55 216.14L154.63 216.58L155.71 217.08L156.79 217.63L157.87 218.25L158.95 218.95L160.03 219.72L161.11 220.57L162.18 221.52L163.26 222.56L164.34 223.71L165.42 224.98L166.5 226.36L167.58 227.87L168.66 229.51L169.74 231.28L170.82 233.18L171.9 235.22" stroke="#7c1630" stroke-width="1.55" fill="none"/>
<circle cx="42.4" cy="212.75" r="2.75" fill="#000000"/>
<circle cx="56.79" cy="212.82" r="2.75" fill="#000000"/>
<circle cx="71.18" cy="218.19" r="2.75" fill="#000000"/>
<circle cx="85.56" cy="267.32" r="2.75" fill="#000000"/>
<circle cx="99.95" cy="300.37" r="2.75" fill="#000000"/>
<circle cx="114.34" cy="302.31" r="2.75" fill="#000000"/>
<circle cx="128.73" cy="303.26" r="2.75" fill="#000000"/>
<circle cx="143.12" cy="302.57" r="2.75" fill="#000000"/>
<circle cx="157.51" cy="302.33" r="2.75" fill="#000000"/>
<circle cx="171.9" cy="301.98" r="2.75" fill="#000000"/>
<rect x="39.8" y="210.11" width="5.2" height="5.2" fill="#e02428"/>
<rect x="54.19" y="210.13" width="5.2" height="5.2" fill="#e02428"/>
<rect x="68.58" y="218.48" width="5.2" height="5.2" fill="#e02428"/>
<rect x="82.96" y="281.48" width="5.2" height="5.2" fill="#e02428"/>
<rect x="97.35" y="299.44" width="5.2" height="5.2" fill="#e02428"/>
<rect x="111.74" y="300.19" width="5.2" height="5.2" fill="#e02428"/>
<rect x="126.13" y="300.48" width="5.2" height="5.2" fill="#e02428"/>
<rect x="140.52" y="299.34" width="5.2" height="5.2" fill="#e02428"/>
<rect x="154.91" y="299.6" width="5.2" height="5.2" fill="#e02428"/>
<rect x="169.3" y="299.79" width="5.2" height="5.2" fill="#e02428"/>
<polygon points="42.4,211.34 45.4,216.34 39.4,216.34" fill="#2a2ccc"/>
<polygon points="56.79,210.83 59.79,215.83 53.79,215.83" fill="#2a2ccc"/>
<polygon points="71.18,219.32 74.18,224.32 68.18,224.32" fill="#2a2ccc"/>
<polygon points="99.95,299.22 102.95,304.22 96.95,304.22" fill="#2a2ccc"/>
<polygon points="114.34,300.41 117.34,305.41 111.34,305.41" fill="#2a2ccc"/>
<polygon points="128.73,300.64 131.73,305.64 125.73,305.64" fill="#2a2ccc"/>
<polygon points="143.12,300.48 146.12,305.48 140.12,305.48" fill="#2a2ccc"/>
<polygon points="157.51,299.4 160.51,304.4 154.51,304.4" fill="#2a2ccc"/>
<polygon points="171.9,300.68 174.9,305.68 168.9,305.68" fill="#2a2ccc"/>
<polygon points="42.4,217.07 45.4,212.07 39.4,212.07" fill="#3a8a3a"/>
<polygon points="56.79,216.16 59.79,211.16 53.79,211.16" fill="#3a8a3a"/>
<polygon points="71.18,223.58 74.18,218.59 68.18,218.59" fill="#3a8a3a"/>
<polygon points="99.95,303.98 102.95,298.98 96.95,298.98" fill="#3a8a3a"/>
<polygon points="114.34,305.74 117.34,300.74 111.34,300.74" fill="#3a8a3a"/>
<polygon points="128.73,304.8 131.73,299.81 125.73,299.81" fill="#3a8a3a"/>
<polygon points="143.12,304.96 146.12,299.97 140.12,299.97" fill="#3a8a3a"/>
<polygon points="157.51,305.72 160.51,300.72 154.51,300.72" fill="#3a8a3a"/>
<polygon points="171.9,304.91 174.9,299.92 168.9,299.92" fill="#3a8a3a"/>
<polygon points="42.4,208.75 45.3,211.65 42.4,214.55 39.5,211.65" fill="#e69c50"/>
<polygon points="56.79,210.77 59.69,213.67 56.79,216.57 53.89,213.67" fill="#e69c50"/>
<polygon points="71.18,209.38 74.08,212.28 71.18,215.18 68.28,212.28" fill="#e69c50"/>
<polygon points="85.56,214.71 88.46,217.61 85.56,220.51 82.66,217.61" fill="#e69c50"/>
<polygon points="99.95,263.87 102.85,266.77 99.95,269.67 97.05,266.77" fill="#e69c50"/>
<polygon points="114.34,298.98 117.24,301.88 114.34,304.78 111.44,301.88" fill="#e69c50"/>
<polygon points="128.73,298.84 131.63,301.74 128.73,304.64 125.83,301.74" fill="#e69c50"/>
<polygon points="143.12,299.31 146.02,302.21 143.12,305.11 140.22,302.21" fill="#e69c50"/>
<polygon points="157.51,298.94 160.41,301.84 157.51,304.74 154.61,301.84" fill="#e69c50"/>
<polygon points="171.9,298.64 174.8,301.54 171.9,304.44 169,301.54" fill="#e69c50"/>
<circle cx="42.4" cy="212.93" r="2.95" fill="none" stroke="#c8348e" stroke-width="1.1"/>
<circle cx="56.79" cy="212.68" r="2.95" fill="none" stroke="#c8348e" stroke-width="1.1"/>
<circle cx="71.18" cy="212.81" r="2.95" fill="none" stroke="#c8348e" stroke-width="1.1"/>
<circle cx="85.56" cy="212.76" r="2.95" fill="none" stroke="#c8348e" stroke-width="1.1"/>
<circle cx="99.95" cy="212.96" r="2.95" fill="none" stroke="#c8348e" stroke-width="1.1"/>
<circle cx="114.34" cy="214.07" r="2.95" fill="none" stroke="#c8348e" stroke-width="1.1"/>
<circle cx="128.73" cy="232.74" r="2.95" fill="none" stroke="#c8348e" stroke-width="1.1"/>
<circle cx="143.12" cy="283.87" r="2.95" fill="none" stroke="#c8348e" stroke-width="1.1"/>
<circle cx="157.51" cy="302" r="2.95" fill="none" stroke="#c8348e" stroke-width="1.1"/>
<circle cx="171.9" cy="302.9" r="2.95" fill="none" stroke="#c8348e" stroke-width="1.1"/>
<rect x="39.65" y="209.84" width="5.5" height="5.5" fill="none" stroke="#7c1630" stroke-width="1.1"/>
<rect x="54.04" y="209.24" width="5.5" height="5.5" fill="none" stroke="#7c1630" stroke-width="1.1"/>
<rect x="68.43" y="208.91" width="5.5" height="5.5" fill="none" stroke="#7c1630" stroke-width="1.1"/>
<rect x="82.81" y="210.33" width="5.5" height="5.5" fill="none" stroke="#7c1630" stroke-width="1.1"/>
<rect x="97.2" y="209.33" width="5.5" height="5.5" fill="none" stroke="#7c1630" stroke-width="1.1"/>
<rect x="111.59" y="209.49" width="5.5" height="5.5" fill="none" stroke="#7c1630" stroke-width="1.1"/>
<rect x="125.98" y="209.75" width="5.5" height="5.5" fill="none" stroke="#7c1630" stroke-width="1.1"/>
<rect x="140.37" y="211.8" width="5.5" height="5.5" fill="none" stroke="#7c1630" stroke-width="1.1"/>
<rect x="154.76" y="216.29" width="5.5" height="5.5" fill="none" stroke="#7c1630" stroke-width="1.1"/>
<rect x="169.15" y="232.71" width="5.5" height="5.5" fill="none" stroke="#7c1630" stroke-width="1.1"/>
<text x="203" y="194.6" font-size="9.4" text-anchor="start" font-weight="bold" >ABT-702</text>
<circle cx="189.8" cy="204.5" r="2.81" fill="#000000"/>
<text x="203" y="207.8" font-size="9.3" text-anchor="start" font-weight="normal" >0nM</text>
<rect x="187.15" y="215.42" width="5.3" height="5.3" fill="#e02428"/>
<text x="203" y="221.37" font-size="9.3" text-anchor="start" font-weight="normal" >0.01nM</text>
<polygon points="189.8,228.89 192.86,233.98 186.74,233.98" fill="#2a2ccc"/>
<text x="203" y="234.94" font-size="9.3" text-anchor="start" font-weight="normal" >0.1nM</text>
<polygon points="189.8,247.96 192.86,242.87 186.74,242.87" fill="#3a8a3a"/>
<text x="203" y="248.51" font-size="9.3" text-anchor="start" font-weight="normal" >1nM</text>
<polygon points="189.8,255.82 192.76,258.78 189.8,261.74 186.84,258.78" fill="#e69c50"/>
<text x="203" y="262.08" font-size="9.3" text-anchor="start" font-weight="normal" >10nM</text>
<circle cx="189.8" cy="272.35" r="3.01" fill="none" stroke="#c8348e" stroke-width="1.1"/>
<text x="203" y="275.65" font-size="9.3" text-anchor="start" font-weight="normal" >100nM</text>
<rect x="187" y="283.12" width="5.61" height="5.61" fill="none" stroke="#7c1630" stroke-width="1.1"/>
<text x="203" y="289.22" font-size="9.3" text-anchor="start" font-weight="normal" >1000nM</text>
<path d="M28.5 474.7H171.9" stroke="#a0a0a0" stroke-width="0.9" fill="none"/>
<path d="M28.4 368.8V487.7" stroke="#000" stroke-width="1.3" fill="none"/>
<path d="M24 474.7H28.4M24 457.06H28.4M24 439.42H28.4M24 421.78H28.4M24 404.14H28.4M24 386.5H28.4M24 368.86H28.4" stroke="#000" stroke-width="1.3" fill="none"/>
<text x="23.4" y="477.8" font-size="8.6" text-anchor="end" font-weight="bold" >0.0</text>
<text x="23.4" y="460.16" font-size="8.6" text-anchor="end" font-weight="bold" >0.2</text>
<text x="23.4" y="442.52" font-size="8.6" text-anchor="end" font-weight="bold" >0.4</text>
<text x="23.4" y="424.88" font-size="8.6" text-anchor="end" font-weight="bold" >0.6</text>
<text x="23.4" y="407.24" font-size="8.6" text-anchor="end" font-weight="bold" >0.8</text>
<text x="23.4" y="389.6" font-size="8.6" text-anchor="end" font-weight="bold" >1.0</text>
<text x="23.4" y="371.96" font-size="8.6" text-anchor="end" font-weight="bold" >1.2</text>
<path d="M27.85 483.5H172.55" stroke="#000" stroke-width="1.4" fill="none"/>
<path d="M28.5 483.5V487.7M42.89 483.5V486.2M51.31 483.5V486.2M57.28 483.5V486.2M61.91 483.5V486.2M65.7 483.5V486.2M68.9 483.5V486.2M71.67 483.5V486.2M74.11 483.5V486.2M76.3 483.5V487.7M90.69 483.5V486.2M99.11 483.5V486.2M105.08 483.5V486.2M109.71 483.5V486.2M113.5 483.5V486.2M116.7 483.5V486.2M119.47 483.5V486.2M121.91 483.5V486.2M124.1 483.5V487.7M138.49 483.5V486.2M146.91 483.5V486.2M152.88 483.5V486.2M157.51 483.5V486.2M161.3 483.5V486.2M164.5 483.5V486.2M167.27 483.5V486.2M169.71 483.5V486.2M171.9 483.5V487.7" stroke="#000" stroke-width="1.2" fill="none"/>
<text x="28.5" y="496.7" font-size="8.6" text-anchor="middle" font-weight="bold" >0.01</text>
<text x="76.3" y="496.7" font-size="8.6" text-anchor="middle" font-weight="bold" >0.1</text>
<text x="124.1" y="496.7" font-size="8.6" text-anchor="middle" font-weight="bold" >1</text>
<text x="171.9" y="496.7" font-size="8.6" text-anchor="middle" font-weight="bold" >10</text>
<text transform="translate(9.4 424.3) rotate(-90)" x="0" y="0" font-size="9.2" text-anchor="middle" font-weight="bold">Normalized activity</text>
<text x="100.5" y="509.9" font-size="9.15" text-anchor="middle" font-weight="bold" >Kinetin riboside (<tspan font-weight="normal">µ</tspan>M)</text>
<circle cx="42.4" cy="385.45" r="2.75" fill="#000000"/>
<circle cx="56.79" cy="384.37" r="2.75" fill="#000000"/>
<circle cx="71.18" cy="385.61" r="2.75" fill="#000000"/>
<circle cx="85.56" cy="411.32" r="2.75" fill="#000000"/>
<circle cx="99.95" cy="469.05" r="2.75" fill="#000000"/>
<circle cx="114.34" cy="473.87" r="2.75" fill="#000000"/>
<circle cx="128.73" cy="474.04" r="2.75" fill="#000000"/>
<circle cx="143.12" cy="474.67" r="2.75" fill="#000000"/>
<circle cx="157.51" cy="474.69" r="2.75" fill="#000000"/>
<circle cx="171.9" cy="475.26" r="2.75" fill="#000000"/>
<rect x="39.8" y="389.15" width="5.2" height="5.2" fill="#e02428"/>
<rect x="54.19" y="390.98" width="5.2" height="5.2" fill="#e02428"/>
<rect x="68.58" y="391.59" width="5.2" height="5.2" fill="#e02428"/>
<rect x="82.96" y="390.75" width="5.2" height="5.2" fill="#e02428"/>
<rect x="97.35" y="396.47" width="5.2" height="5.2" fill="#e02428"/>
<rect x="111.74" y="407.99" width="5.2" height="5.2" fill="#e02428"/>
<rect x="126.13" y="429.57" width="5.2" height="5.2" fill="#e02428"/>
<rect x="140.52" y="454.73" width="5.2" height="5.2" fill="#e02428"/>
<rect x="154.91" y="467.4" width="5.2" height="5.2" fill="#e02428"/>
<rect x="169.3" y="473.93" width="5.2" height="5.2" fill="#e02428"/>
<polygon points="42.4,382.9 45.4,387.9 39.4,387.9" fill="#2a2ccc"/>
<polygon points="56.79,382.86 59.79,387.85 53.79,387.85" fill="#2a2ccc"/>
<polygon points="71.18,383.03 74.18,388.02 68.18,388.02" fill="#2a2ccc"/>
<polygon points="85.56,385.06 88.56,390.05 82.56,390.05" fill="#2a2ccc"/>
<polygon points="99.95,386.09 102.95,391.09 96.95,391.09" fill="#2a2ccc"/>
<polygon points="114.34,398.45 117.34,403.44 111.34,403.44" fill="#2a2ccc"/>
<polygon points="128.73,434.1 131.73,439.09 125.73,439.09" fill="#2a2ccc"/>
<polygon points="143.12,463.98 146.12,468.97 140.12,468.97" fill="#2a2ccc"/>
<polygon points="157.51,471.23 160.51,476.23 154.51,476.23" fill="#2a2ccc"/>
<polygon points="171.9,471.9 174.9,476.9 168.9,476.9" fill="#2a2ccc"/>
<polygon points="42.4,394.92 45.4,389.93 39.4,389.93" fill="#3a8a3a"/>
<polygon points="56.79,394.65 59.79,389.66 53.79,389.66" fill="#3a8a3a"/>
<polygon points="71.18,396.05 74.18,391.05 68.18,391.05" fill="#3a8a3a"/>
<polygon points="85.56,394.34 88.56,389.34 82.56,389.34" fill="#3a8a3a"/>
<polygon points="99.95,396.46 102.95,391.46 96.95,391.46" fill="#3a8a3a"/>
<polygon points="114.34,403.84 117.34,398.85 111.34,398.85" fill="#3a8a3a"/>
<polygon points="128.73,456.27 131.73,451.28 125.73,451.28" fill="#3a8a3a"/>
<polygon points="143.12,475.55 146.12,470.55 140.12,470.55" fill="#3a8a3a"/>
<polygon points="157.51,478.08 160.51,473.08 154.51,473.08" fill="#3a8a3a"/>
<polygon points="171.9,476.96 174.9,471.97 168.9,471.97" fill="#3a8a3a"/>
<polygon points="42.4,379.01 45.3,381.91 42.4,384.81 39.5,381.91" fill="#e69c50"/>
<polygon points="56.79,377.85 59.69,380.75 56.79,383.65 53.89,380.75" fill="#e69c50"/>
<polygon points="71.18,378.02 74.08,380.92 71.18,383.82 68.28,380.92" fill="#e69c50"/>
<polygon points="85.56,379.35 88.46,382.25 85.56,385.15 82.66,382.25" fill="#e69c50"/>
<polygon points="99.95,377.96 102.85,380.86 99.95,383.76 97.05,380.86" fill="#e69c50"/>
<polygon points="114.34,378.48 117.24,381.38 114.34,384.28 111.44,381.38" fill="#e69c50"/>
<polygon points="128.73,379.87 131.63,382.77 128.73,385.67 125.83,382.77" fill="#e69c50"/>
<polygon points="143.12,379.23 146.02,382.13 143.12,385.03 140.22,382.13" fill="#e69c50"/>
<polygon points="157.51,390.3 160.41,393.2 157.51,396.1 154.61,393.2" fill="#e69c50"/>
<polygon points="171.9,413.21 174.8,416.11 171.9,419.01 169,416.11" fill="#e69c50"/>
<circle cx="42.4" cy="387.3" r="2.95" fill="none" stroke="#c8348e" stroke-width="1.1"/>
<circle cx="56.79" cy="388.45" r="2.95" fill="none" stroke="#c8348e" stroke-width="1.1"/>
<circle cx="71.18" cy="388.44" r="2.95" fill="none" stroke="#c8348e" stroke-width="1.1"/>
<circle cx="85.56" cy="387.58" r="2.95" fill="none" stroke="#c8348e" stroke-width="1.1"/>
<circle cx="99.95" cy="388.51" r="2.95" fill="none" stroke="#c8348e" stroke-width="1.1"/>
<circle cx="114.34" cy="390.03" r="2.95" fill="none" stroke="#c8348e" stroke-width="1.1"/>
<circle cx="128.73" cy="378.75" r="2.95" fill="none" stroke="#c8348e" stroke-width="1.1"/>
<circle cx="143.12" cy="372.94" r="2.95" fill="none" stroke="#c8348e" stroke-width="1.1"/>
<circle cx="157.51" cy="369.67" r="2.95" fill="none" stroke="#c8348e" stroke-width="1.1"/>
<circle cx="171.9" cy="369.78" r="2.95" fill="none" stroke="#c8348e" stroke-width="1.1"/>
<rect x="39.65" y="380.35" width="5.5" height="5.5" fill="none" stroke="#7c1630" stroke-width="1.1"/>
<rect x="54.04" y="380.24" width="5.5" height="5.5" fill="none" stroke="#7c1630" stroke-width="1.1"/>
<rect x="68.43" y="379.7" width="5.5" height="5.5" fill="none" stroke="#7c1630" stroke-width="1.1"/>
<rect x="82.81" y="381.29" width="5.5" height="5.5" fill="none" stroke="#7c1630" stroke-width="1.1"/>
<rect x="97.2" y="379.79" width="5.5" height="5.5" fill="none" stroke="#7c1630" stroke-width="1.1"/>
<rect x="111.59" y="376.9" width="5.5" height="5.5" fill="none" stroke="#7c1630" stroke-width="1.1"/>
<rect x="125.98" y="377.93" width="5.5" height="5.5" fill="none" stroke="#7c1630" stroke-width="1.1"/>
<rect x="140.37" y="377.85" width="5.5" height="5.5" fill="none" stroke="#7c1630" stroke-width="1.1"/>
<rect x="154.76" y="376.91" width="5.5" height="5.5" fill="none" stroke="#7c1630" stroke-width="1.1"/>
<rect x="169.15" y="378.25" width="5.5" height="5.5" fill="none" stroke="#7c1630" stroke-width="1.1"/>
<polygon points="42.4,383.3 45.4,388.29 39.4,388.29" fill="none" stroke="#f4f09a" stroke-width="1.1"/>
<polygon points="56.79,383.29 59.79,388.28 53.79,388.28" fill="none" stroke="#f4f09a" stroke-width="1.1"/>
<polygon points="71.18,383.14 74.18,388.14 68.18,388.14" fill="none" stroke="#f4f09a" stroke-width="1.1"/>
<polygon points="85.56,404.55 88.56,409.54 82.56,409.54" fill="none" stroke="#f4f09a" stroke-width="1.1"/>
<polygon points="99.95,464.67 102.95,469.67 96.95,469.67" fill="none" stroke="#f4f09a" stroke-width="1.1"/>
<polygon points="114.34,471.8 117.34,476.79 111.34,476.79" fill="none" stroke="#f4f09a" stroke-width="1.1"/>
<polygon points="128.73,472.17 131.73,477.16 125.73,477.16" fill="none" stroke="#f4f09a" stroke-width="1.1"/>
<polygon points="143.12,472.61 146.12,477.6 140.12,477.6" fill="none" stroke="#f4f09a" stroke-width="1.1"/>
<polygon points="157.51,472.23 160.51,477.22 154.51,477.22" fill="none" stroke="#f4f09a" stroke-width="1.1"/>
<polygon points="171.9,471.28 174.9,476.27 168.9,476.27" fill="none" stroke="#f4f09a" stroke-width="1.1"/>
<polygon points="42.4,387.34 45.4,382.34 39.4,382.34" fill="none" stroke="#a6e6f2" stroke-width="1.1"/>
<polygon points="56.79,387.8 59.79,382.81 53.79,382.81" fill="none" stroke="#a6e6f2" stroke-width="1.1"/>
<polygon points="71.18,387.9 74.18,382.9 68.18,382.9" fill="none" stroke="#a6e6f2" stroke-width="1.1"/>
<polygon points="85.56,414.93 88.56,409.93 82.56,409.93" fill="none" stroke="#a6e6f2" stroke-width="1.1"/>
<polygon points="99.95,471.28 102.95,466.29 96.95,466.29" fill="none" stroke="#a6e6f2" stroke-width="1.1"/>
<polygon points="114.34,477.53 117.34,472.53 111.34,472.53" fill="none" stroke="#a6e6f2" stroke-width="1.1"/>
<polygon points="128.73,477.57 131.73,472.58 125.73,472.58" fill="none" stroke="#a6e6f2" stroke-width="1.1"/>
<polygon points="143.12,476.4 146.12,471.4 140.12,471.4" fill="none" stroke="#a6e6f2" stroke-width="1.1"/>
<polygon points="157.51,478.24 160.51,473.24 154.51,473.24" fill="none" stroke="#a6e6f2" stroke-width="1.1"/>
<polygon points="171.9,477.52 174.9,472.52 168.9,472.52" fill="none" stroke="#a6e6f2" stroke-width="1.1"/>
<polygon points="42.4,381.75 45.3,384.65 42.4,387.55 39.5,384.65" fill="none" stroke="#8c8c8c" stroke-width="1.1"/>
<polygon points="56.79,382.33 59.69,385.23 56.79,388.13 53.89,385.23" fill="none" stroke="#8c8c8c" stroke-width="1.1"/>
<polygon points="71.18,384.2 74.08,387.1 71.18,390 68.28,387.1" fill="none" stroke="#8c8c8c" stroke-width="1.1"/>
<polygon points="85.56,411.21 88.46,414.11 85.56,417.01 82.66,414.11" fill="none" stroke="#8c8c8c" stroke-width="1.1"/>
<polygon points="99.95,467.05 102.85,469.95 99.95,472.85 97.05,469.95" fill="none" stroke="#8c8c8c" stroke-width="1.1"/>
<polygon points="114.34,472.14 117.24,475.04 114.34,477.94 111.44,475.04" fill="none" stroke="#8c8c8c" stroke-width="1.1"/>
<polygon points="128.73,472.01 131.63,474.91 128.73,477.81 125.83,474.91" fill="none" stroke="#8c8c8c" stroke-width="1.1"/>
<polygon points="143.12,471.5 146.02,474.4 143.12,477.3 140.22,474.4" fill="none" stroke="#8c8c8c" stroke-width="1.1"/>
<polygon points="157.51,470.77 160.41,473.67 157.51,476.57 154.61,473.67" fill="none" stroke="#8c8c8c" stroke-width="1.1"/>
<polygon points="171.9,471.88 174.8,474.78 171.9,477.68 169,474.78" fill="none" stroke="#8c8c8c" stroke-width="1.1"/>
<path d="M42.36 384.74L43.44 384.74L44.52 384.74L45.6 384.74L46.68 384.74L47.76 384.74L48.84 384.74L49.92 384.74L51 384.75L52.08 384.75L53.16 384.75L54.24 384.76L55.32 384.76L56.4 384.77L57.48 384.78L58.56 384.79L59.64 384.81L60.71 384.83L61.79 384.86L62.87 384.89L63.95 384.94L65.03 385L66.11 385.08L67.19 385.18L68.27 385.32L69.35 385.49L70.43 385.71L71.51 385.99L72.59 386.36L73.67 386.83L74.75 387.43L75.83 388.2L76.91 389.18L77.99 390.42L79.07 391.97L80.15 393.9L81.22 396.27L82.3 399.15L83.38 402.58L84.46 406.59L85.54 411.17L86.62 416.27L87.7 421.78L88.78 427.54L89.86 433.38L90.94 439.1L92.02 444.51L93.1 449.49L94.18 453.93L95.26 457.79L96.34 461.07L97.42 463.82L98.5 466.07L99.58 467.9L100.66 469.36L101.73 470.53L102.81 471.45L103.89 472.17L104.97 472.74L106.05 473.18L107.13 473.52L108.21 473.79L109.29 474L110.37 474.16L111.45 474.28L112.53 474.38L113.61 474.45L114.69 474.51L115.77 474.55L116.85 474.59L117.93 474.61L119.01 474.63L120.09 474.65L121.16 474.66L122.24 474.67L123.32 474.68L124.4 474.68L125.48 474.69L126.56 474.69L127.64 474.69L128.72 474.69L129.8 474.69L130.88 474.7L131.96 474.7L133.04 474.7L134.12 474.7L135.2 474.7L136.28 474.7L137.36 474.7L138.44 474.7L139.52 474.7L140.6 474.7L141.67 474.7L142.75 474.7L143.83 474.7L144.91 474.7L145.99 474.7L147.07 474.7L148.15 474.7L149.23 474.7L150.31 474.7L151.39 474.7L152.47 474.7L153.55 474.7L154.63 474.7L155.71 474.7L156.79 474.7L157.87 474.7L158.95 474.7L160.03 474.7L161.11 474.7L162.18 474.7L163.26 474.7L164.34 474.7L165.42 474.7L166.5 474.7L167.58 474.7L168.66 474.7L169.74 474.7L170.82 474.7L171.9 474.7" stroke="#000000" stroke-width="1.55" fill="none"/>
<path d="M42.36 392.72L43.44 392.72L44.52 392.72L45.6 392.73L46.68 392.73L47.76 392.74L48.84 392.75L49.92 392.75L51 392.76L52.08 392.77L53.16 392.78L54.24 392.79L55.32 392.8L56.4 392.81L57.48 392.83L58.56 392.84L59.64 392.86L60.71 392.88L61.79 392.9L62.87 392.92L63.95 392.94L65.03 392.97L66.11 393L67.19 393.03L68.27 393.07L69.35 393.1L70.43 393.15L71.51 393.19L72.59 393.24L73.67 393.3L74.75 393.36L75.83 393.43L76.91 393.5L77.99 393.58L79.07 393.67L80.15 393.76L81.22 393.87L82.3 393.98L83.38 394.11L84.46 394.25L85.54 394.4L86.62 394.56L87.7 394.75L88.78 394.94L89.86 395.16L90.94 395.4L92.02 395.65L93.1 395.93L94.18 396.24L95.26 396.58L96.34 396.94L97.42 397.34L98.5 397.77L99.58 398.23L100.66 398.74L101.73 399.29L102.81 399.88L103.89 400.52L104.97 401.22L106.05 401.97L107.13 402.77L108.21 403.63L109.29 404.56L110.37 405.55L111.45 406.61L112.53 407.73L113.61 408.93L114.69 410.2L115.77 411.54L116.85 412.95L117.93 414.44L119.01 415.99L120.09 417.61L121.16 419.3L122.24 421.04L123.32 422.84L124.4 424.7L125.48 426.59L126.56 428.53L127.64 430.49L128.72 432.47L129.8 434.47L130.88 436.47L131.96 438.47L133.04 440.45L134.12 442.41L135.2 444.35L136.28 446.24L137.36 448.09L138.44 449.9L139.52 451.64L140.6 453.32L141.67 454.94L142.75 456.5L143.83 457.98L144.91 459.39L145.99 460.73L147.07 461.99L148.15 463.19L149.23 464.32L150.31 465.37L151.39 466.36L152.47 467.29L153.55 468.15L154.63 468.95L155.71 469.7L156.79 470.39L157.87 471.03L158.95 471.62L160.03 472.17L161.11 472.68L162.18 473.15L163.26 473.57L164.34 473.97L165.42 474.33L166.5 474.67L167.58 474.97L168.66 475.25L169.74 475.51L170.82 475.75L171.9 475.96" stroke="#e02428" stroke-width="1.55" fill="none"/>
<path d="M42.36 386.5L43.44 386.5L44.52 386.5L45.6 386.5L46.68 386.5L47.76 386.5L48.84 386.5L49.92 386.5L51 386.5L52.08 386.5L53.16 386.51L54.24 386.51L55.32 386.51L56.4 386.51L57.48 386.51L58.56 386.51L59.64 386.51L60.71 386.51L61.79 386.52L62.87 386.52L63.95 386.52L65.03 386.52L66.11 386.53L67.19 386.53L68.27 386.54L69.35 386.54L70.43 386.55L71.51 386.56L72.59 386.57L73.67 386.58L74.75 386.59L75.83 386.6L76.91 386.62L77.99 386.64L79.07 386.66L80.15 386.68L81.22 386.71L82.3 386.74L83.38 386.78L84.46 386.83L85.54 386.87L86.62 386.93L87.7 387L88.78 387.08L89.86 387.16L90.94 387.27L92.02 387.38L93.1 387.52L94.18 387.67L95.26 387.85L96.34 388.05L97.42 388.29L98.5 388.56L99.58 388.87L100.66 389.22L101.73 389.63L102.81 390.09L103.89 390.62L104.97 391.22L106.05 391.9L107.13 392.68L108.21 393.56L109.29 394.55L110.37 395.66L111.45 396.9L112.53 398.3L113.61 399.84L114.69 401.55L115.77 403.42L116.85 405.47L117.93 407.7L119.01 410.1L120.09 412.66L121.16 415.37L122.24 418.23L123.32 421.2L124.4 424.26L125.48 427.38L126.56 430.54L127.64 433.7L128.72 436.83L129.8 439.89L130.88 442.87L131.96 445.73L133.04 448.45L134.12 451.01L135.2 453.42L136.28 455.65L137.36 457.7L138.44 459.59L139.52 461.3L140.6 462.85L141.67 464.25L142.75 465.5L143.83 466.62L144.91 467.61L145.99 468.49L147.07 469.27L148.15 469.96L149.23 470.56L150.31 471.09L151.39 471.56L152.47 471.96L153.55 472.32L154.63 472.63L155.71 472.9L156.79 473.14L157.87 473.34L158.95 473.52L160.03 473.68L161.11 473.81L162.18 473.93L163.26 474.03L164.34 474.12L165.42 474.2L166.5 474.27L167.58 474.32L168.66 474.37L169.74 474.42L170.82 474.45L171.9 474.49" stroke="#2a2ccc" stroke-width="1.55" fill="none"/>
<path d="M42.36 392.67L43.44 392.67L44.52 392.67L45.6 392.67L46.68 392.67L47.76 392.67L48.84 392.67L49.92 392.67L51 392.67L52.08 392.67L53.16 392.67L54.24 392.67L55.32 392.67L56.4 392.67L57.48 392.67L58.56 392.67L59.64 392.67L60.71 392.67L61.79 392.67L62.87 392.67L63.95 392.67L65.03 392.67L66.11 392.67L67.19 392.67L68.27 392.67L69.35 392.67L70.43 392.67L71.51 392.67L72.59 392.68L73.67 392.68L74.75 392.68L75.83 392.68L76.91 392.68L77.99 392.68L79.07 392.68L80.15 392.68L81.22 392.68L82.3 392.68L83.38 392.69L84.46 392.69L85.54 392.69L86.62 392.7L87.7 392.7L88.78 392.71L89.86 392.72L90.94 392.74L92.02 392.75L93.1 392.77L94.18 392.8L95.26 392.83L96.34 392.87L97.42 392.93L98.5 392.99L99.58 393.07L100.66 393.18L101.73 393.31L102.81 393.48L103.89 393.69L104.97 393.95L106.05 394.28L107.13 394.7L108.21 395.21L109.29 395.86L110.37 396.65L111.45 397.64L112.53 398.85L113.61 400.33L114.69 402.11L115.77 404.25L116.85 406.77L117.93 409.72L119.01 413.09L120.09 416.89L121.16 421.06L122.24 425.55L123.32 430.25L124.4 435.03L125.48 439.79L126.56 444.38L127.64 448.7L128.72 452.67L129.8 456.23L130.88 459.36L131.96 462.07L133.04 464.37L134.12 466.31L135.2 467.91L136.28 469.24L137.36 470.31L138.44 471.19L139.52 471.9L140.6 472.47L141.67 472.92L142.75 473.29L143.83 473.58L144.91 473.81L145.99 473.99L147.07 474.14L148.15 474.26L149.23 474.35L150.31 474.42L151.39 474.48L152.47 474.53L153.55 474.56L154.63 474.59L155.71 474.61L156.79 474.63L157.87 474.65L158.95 474.66L160.03 474.67L161.11 474.67L162.18 474.68L163.26 474.68L164.34 474.69L165.42 474.69L166.5 474.69L167.58 474.69L168.66 474.69L169.74 474.7L170.82 474.7L171.9 474.7" stroke="#3a8a3a" stroke-width="1.55" fill="none"/>
<path d="M42.36 381.65L43.44 381.65L44.52 381.65L45.6 381.65L46.68 381.65L47.76 381.65L48.84 381.65L49.92 381.65L51 381.65L52.08 381.65L53.16 381.65L54.24 381.65L55.32 381.65L56.4 381.65L57.48 381.65L58.56 381.65L59.64 381.65L60.71 381.65L61.79 381.65L62.87 381.65L63.95 381.65L65.03 381.65L66.11 381.65L67.19 381.65L68.27 381.65L69.35 381.65L70.43 381.65L71.51 381.65L72.59 381.65L73.67 381.65L74.75 381.65L75.83 381.65L76.91 381.65L77.99 381.65L79.07 381.65L80.15 381.65L81.22 381.65L82.3 381.65L83.38 381.65L84.46 381.65L85.54 381.65L86.62 381.65L87.7 381.65L88.78 381.65L89.86 381.65L90.94 381.65L92.02 381.65L93.1 381.65L94.18 381.65L95.26 381.65L96.34 381.65L97.42 381.65L98.5 381.65L99.58 381.65L100.66 381.65L101.73 381.65L102.81 381.65L103.89 381.65L104.97 381.65L106.05 381.65L107.13 381.65L108.21 381.65L109.29 381.66L110.37 381.66L111.45 381.66L112.53 381.66L113.61 381.66L114.69 381.67L115.77 381.67L116.85 381.67L117.93 381.68L119.01 381.68L120.09 381.69L121.16 381.69L122.24 381.7L123.32 381.71L124.4 381.72L125.48 381.74L126.56 381.76L127.64 381.78L128.72 381.8L129.8 381.83L130.88 381.86L131.96 381.9L133.04 381.95L134.12 382L135.2 382.07L136.28 382.15L137.36 382.24L138.44 382.35L139.52 382.47L140.6 382.62L141.67 382.8L142.75 383.01L143.83 383.26L144.91 383.55L145.99 383.88L147.07 384.28L148.15 384.73L149.23 385.26L150.31 385.88L151.39 386.58L152.47 387.39L153.55 388.3L154.63 389.33L155.71 390.48L156.79 391.76L157.87 393.16L158.95 394.69L160.03 396.32L161.11 398.06L162.18 399.87L163.26 401.75L164.34 403.65L165.42 405.56L166.5 407.44L167.58 409.28L168.66 411.04L169.74 412.7L170.82 414.26L171.9 415.7" stroke="#e69c50" stroke-width="1.55" fill="none"/>
<path d="M42.36 387.82L43.44 387.82L44.52 387.82L45.6 387.82L46.68 387.82L47.76 387.82L48.84 387.82L49.92 387.82L51 387.82L52.08 387.82L53.16 387.82L54.24 387.82L55.32 387.82L56.4 387.82L57.48 387.82L58.56 387.82L59.64 387.82L60.71 387.82L61.79 387.82L62.87 387.82L63.95 387.82L65.03 387.82L66.11 387.82L67.19 387.82L68.27 387.82L69.35 387.82L70.43 387.82L71.51 387.82L72.59 387.82L73.67 387.82L74.75 387.82L75.83 387.82L76.91 387.81L77.99 387.81L79.07 387.81L80.15 387.81L81.22 387.81L82.3 387.8L83.38 387.8L84.46 387.8L85.54 387.79L86.62 387.79L87.7 387.78L88.78 387.77L89.86 387.76L90.94 387.75L92.02 387.74L93.1 387.73L94.18 387.71L95.26 387.7L96.34 387.68L97.42 387.65L98.5 387.62L99.58 387.59L100.66 387.55L101.73 387.5L102.81 387.45L103.89 387.39L104.97 387.32L106.05 387.24L107.13 387.14L108.21 387.03L109.29 386.9L110.37 386.76L111.45 386.59L112.53 386.4L113.61 386.18L114.69 385.93L115.77 385.65L116.85 385.33L117.93 384.98L119.01 384.59L120.09 384.15L121.16 383.67L122.24 383.15L123.32 382.59L124.4 382L125.48 381.36L126.56 380.7L127.64 380.02L128.72 379.32L129.8 378.62L130.88 377.91L131.96 377.22L133.04 376.55L134.12 375.9L135.2 375.28L136.28 374.7L137.36 374.16L138.44 373.66L139.52 373.2L140.6 372.79L141.67 372.41L142.75 372.08L143.83 371.78L144.91 371.51L145.99 371.28L147.07 371.07L148.15 370.89L149.23 370.74L150.31 370.6L151.39 370.48L152.47 370.38L153.55 370.29L154.63 370.21L155.71 370.15L156.79 370.09L157.87 370.04L158.95 370L160.03 369.96L161.11 369.93L162.18 369.9L163.26 369.88L164.34 369.86L165.42 369.84L166.5 369.83L167.58 369.82L168.66 369.81L169.74 369.8L170.82 369.79L171.9 369.78" stroke="#c8348e" stroke-width="1.55" fill="none"/>
<path d="M42.36 383.41L43.44 383.41L44.52 383.41L45.6 383.41L46.68 383.41L47.76 383.41L48.84 383.41L49.92 383.41L51 383.41L52.08 383.41L53.16 383.41L54.24 383.41L55.32 383.41L56.4 383.41L57.48 383.41L58.56 383.41L59.64 383.41L60.71 383.41L61.79 383.41L62.87 383.41L63.95 383.41L65.03 383.41L66.11 383.41L67.19 383.41L68.27 383.41L69.35 383.41L70.43 383.41L71.51 383.41L72.59 383.41L73.67 383.41L74.75 383.41L75.83 383.41L76.91 383.41L77.99 383.41L79.07 383.41L80.15 383.41L81.22 383.41L82.3 383.41L83.38 383.41L84.46 383.4L85.54 383.4L86.62 383.39L87.7 383.38L88.78 383.36L89.86 383.33L90.94 383.29L92.02 383.22L93.1 383.14L94.18 383.01L95.26 382.84L96.34 382.62L97.42 382.36L98.5 382.05L99.58 381.73L100.66 381.42L101.73 381.15L102.81 380.92L103.89 380.75L104.97 380.62L106.05 380.52L107.13 380.46L108.21 380.42L109.29 380.39L110.37 380.37L111.45 380.35L112.53 380.34L113.61 380.34L114.69 380.33L115.77 380.33L116.85 380.33L117.93 380.33L119.01 380.33L120.09 380.33L121.16 380.33L122.24 380.33L123.32 380.33L124.4 380.33L125.48 380.33L126.56 380.33L127.64 380.33L128.72 380.33L129.8 380.33L130.88 380.33L131.96 380.33L133.04 380.33L134.12 380.33L135.2 380.33L136.28 380.33L137.36 380.33L138.44 380.33L139.52 380.33L140.6 380.33L141.67 380.33L142.75 380.33L143.83 380.33L144.91 380.33L145.99 380.33L147.07 380.33L148.15 380.33L149.23 380.33L150.31 380.33L151.39 380.33L152.47 380.33L153.55 380.33L154.63 380.33L155.71 380.33L156.79 380.33L157.87 380.33L158.95 380.33L160.03 380.33L161.11 380.33L162.18 380.33L163.26 380.33L164.34 380.33L165.42 380.33L166.5 380.33L167.58 380.33L168.66 380.33L169.74 380.33L170.82 380.33L171.9 380.33" stroke="#7c1630" stroke-width="1.55" fill="none"/>
<path d="M42.36 385.18L43.44 385.18L44.52 385.18L45.6 385.18L46.68 385.18L47.76 385.18L48.84 385.18L49.92 385.18L51 385.18L52.08 385.19L53.16 385.19L54.24 385.19L55.32 385.2L56.4 385.2L57.48 385.21L58.56 385.22L59.64 385.23L60.71 385.25L61.79 385.27L62.87 385.3L63.95 385.33L65.03 385.38L66.11 385.44L67.19 385.51L68.27 385.61L69.35 385.74L70.43 385.9L71.51 386.12L72.59 386.39L73.67 386.75L74.75 387.21L75.83 387.79L76.91 388.54L77.99 389.49L79.07 390.69L80.15 392.2L81.22 394.07L82.3 396.39L83.38 399.19L84.46 402.55L85.54 406.48L86.62 410.98L87.7 416L88.78 421.45L89.86 427.17L90.94 432.98L92.02 438.69L93.1 444.11L94.18 449.11L95.26 453.59L96.34 457.5L97.42 460.82L98.5 463.61L99.58 465.9L100.66 467.76L101.73 469.25L102.81 470.44L103.89 471.38L104.97 472.12L106.05 472.69L107.13 473.15L108.21 473.5L109.29 473.77L110.37 473.98L111.45 474.14L112.53 474.27L113.61 474.37L114.69 474.44L115.77 474.5L116.85 474.55L117.93 474.58L119.01 474.61L120.09 474.63L121.16 474.65L122.24 474.66L123.32 474.67L124.4 474.68L125.48 474.68L126.56 474.69L127.64 474.69L128.72 474.69L129.8 474.69L130.88 474.69L131.96 474.7L133.04 474.7L134.12 474.7L135.2 474.7L136.28 474.7L137.36 474.7L138.44 474.7L139.52 474.7L140.6 474.7L141.67 474.7L142.75 474.7L143.83 474.7L144.91 474.7L145.99 474.7L147.07 474.7L148.15 474.7L149.23 474.7L150.31 474.7L151.39 474.7L152.47 474.7L153.55 474.7L154.63 474.7L155.71 474.7L156.79 474.7L157.87 474.7L158.95 474.7L160.03 474.7L161.11 474.7L162.18 474.7L163.26 474.7L164.34 474.7L165.42 474.7L166.5 474.7L167.58 474.7L168.66 474.7L169.74 474.7L170.82 474.7L171.9 474.7" stroke="#f4f09a" stroke-width="1.9" fill="none"/>
<path d="M42.36 384.74L43.44 384.74L44.52 384.74L45.6 384.74L46.68 384.74L47.76 384.74L48.84 384.74L49.92 384.74L51 384.75L52.08 384.75L53.16 384.75L54.24 384.76L55.32 384.76L56.4 384.77L57.48 384.78L58.56 384.79L59.64 384.81L60.71 384.83L61.79 384.86L62.87 384.9L63.95 384.95L65.03 385.01L66.11 385.09L67.19 385.2L68.27 385.33L69.35 385.51L70.43 385.73L71.51 386.03L72.59 386.4L73.67 386.89L74.75 387.5L75.83 388.29L76.91 389.3L77.99 390.56L79.07 392.15L80.15 394.12L81.22 396.55L82.3 399.48L83.38 402.97L84.46 407.04L85.54 411.68L86.62 416.82L87.7 422.37L88.78 428.15L89.86 433.98L90.94 439.67L92.02 445.05L93.1 449.97L94.18 454.35L95.26 458.16L96.34 461.38L97.42 464.07L98.5 466.28L99.58 468.06L100.66 469.49L101.73 470.63L102.81 471.53L103.89 472.24L104.97 472.79L106.05 473.22L107.13 473.55L108.21 473.81L109.29 474.01L110.37 474.17L111.45 474.29L112.53 474.38L113.61 474.46L114.69 474.51L115.77 474.56L116.85 474.59L117.93 474.61L119.01 474.63L120.09 474.65L121.16 474.66L122.24 474.67L123.32 474.68L124.4 474.68L125.48 474.69L126.56 474.69L127.64 474.69L128.72 474.69L129.8 474.7L130.88 474.7L131.96 474.7L133.04 474.7L134.12 474.7L135.2 474.7L136.28 474.7L137.36 474.7L138.44 474.7L139.52 474.7L140.6 474.7L141.67 474.7L142.75 474.7L143.83 474.7L144.91 474.7L145.99 474.7L147.07 474.7L148.15 474.7L149.23 474.7L150.31 474.7L151.39 474.7L152.47 474.7L153.55 474.7L154.63 474.7L155.71 474.7L156.79 474.7L157.87 474.7L158.95 474.7L160.03 474.7L161.11 474.7L162.18 474.7L163.26 474.7L164.34 474.7L165.42 474.7L166.5 474.7L167.58 474.7L168.66 474.7L169.74 474.7L170.82 474.7L171.9 474.7" stroke="#a6e6f2" stroke-width="1.55" fill="none"/>
<path d="M42.36 384.74L43.44 384.74L44.52 384.74L45.6 384.74L46.68 384.74L47.76 384.74L48.84 384.74L49.92 384.74L51 384.75L52.08 384.75L53.16 384.75L54.24 384.76L55.32 384.77L56.4 384.78L57.48 384.79L58.56 384.8L59.64 384.82L60.71 384.85L61.79 384.88L62.87 384.92L63.95 384.98L65.03 385.05L66.11 385.14L67.19 385.26L68.27 385.42L69.35 385.62L70.43 385.88L71.51 386.21L72.59 386.64L73.67 387.19L74.75 387.9L75.83 388.79L76.91 389.93L77.99 391.36L79.07 393.14L80.15 395.34L81.22 398.02L82.3 401.24L83.38 405.04L84.46 409.41L85.54 414.33L86.62 419.7L87.7 425.39L88.78 431.23L89.86 437.01L90.94 442.56L92.02 447.71L93.1 452.35L94.18 456.43L95.26 459.93L96.34 462.86L97.42 465.29L98.5 467.27L99.58 468.86L100.66 470.13L101.73 471.13L102.81 471.92L103.89 472.54L104.97 473.03L106.05 473.41L107.13 473.7L108.21 473.93L109.29 474.1L110.37 474.24L111.45 474.34L112.53 474.42L113.61 474.49L114.69 474.54L115.77 474.57L116.85 474.6L117.93 474.62L119.01 474.64L120.09 474.66L121.16 474.67L122.24 474.67L123.32 474.68L124.4 474.68L125.48 474.69L126.56 474.69L127.64 474.69L128.72 474.69L129.8 474.7L130.88 474.7L131.96 474.7L133.04 474.7L134.12 474.7L135.2 474.7L136.28 474.7L137.36 474.7L138.44 474.7L139.52 474.7L140.6 474.7L141.67 474.7L142.75 474.7L143.83 474.7L144.91 474.7L145.99 474.7L147.07 474.7L148.15 474.7L149.23 474.7L150.31 474.7L151.39 474.7L152.47 474.7L153.55 474.7L154.63 474.7L155.71 474.7L156.79 474.7L157.87 474.7L158.95 474.7L160.03 474.7L161.11 474.7L162.18 474.7L163.26 474.7L164.34 474.7L165.42 474.7L166.5 474.7L167.58 474.7L168.66 474.7L169.74 474.7L170.82 474.7L171.9 474.7" stroke="#8c8c8c" stroke-width="1.55" fill="none"/>
<circle cx="189.8" cy="376.8" r="2.81" fill="#000000"/>
<text x="202.7" y="380.1" font-size="9.3" text-anchor="start" font-weight="normal" >vehicle</text>
<rect x="187.15" y="387.51" width="5.3" height="5.3" fill="#e02428"/>
<text x="202.7" y="393.46" font-size="9.3" text-anchor="start" font-weight="normal" >NBTI</text>
<polygon points="189.8,400.77 192.86,405.86 186.74,405.86" fill="#2a2ccc"/>
<text x="202.7" y="406.82" font-size="9.3" text-anchor="start" font-weight="normal" >NBTG</text>
<polygon points="189.8,419.63 192.86,414.54 186.74,414.54" fill="#3a8a3a"/>
<text x="202.7" y="420.18" font-size="9.3" text-anchor="start" font-weight="normal" >DiPy</text>
<polygon points="189.8,427.28 192.76,430.24 189.8,433.2 186.84,430.24" fill="#e69c50"/>
<text x="202.7" y="433.54" font-size="9.3" text-anchor="start" font-weight="normal" >ABT-702</text>
<circle cx="189.8" cy="443.6" r="3.01" fill="none" stroke="#c8348e" stroke-width="1.1"/>
<text x="202.7" y="446.9" font-size="9.3" text-anchor="start" font-weight="normal" >5-ITu</text>
<rect x="187" y="454.16" width="5.61" height="5.61" fill="none" stroke="#7c1630" stroke-width="1.1"/>
<text x="202.7" y="460.26" font-size="9.3" text-anchor="start" font-weight="normal" >A-134974</text>
<polygon points="189.8,467.57 192.86,472.66 186.74,472.66" fill="none" stroke="#f4f09a" stroke-width="1.1"/>
<text x="202.7" y="473.62" font-size="9.3" text-anchor="start" font-weight="normal" >Ap5A</text>
<polygon points="189.8,486.43 192.86,481.34 186.74,481.34" fill="none" stroke="#a6e6f2" stroke-width="1.1"/>
<text x="202.7" y="486.98" font-size="9.3" text-anchor="start" font-weight="normal" >NKH477</text>
<polygon points="189.8,494.08 192.76,497.04 189.8,500 186.84,497.04" fill="none" stroke="#8c8c8c" stroke-width="1.1"/>
<text x="202.7" y="500.34" font-size="9.3" text-anchor="start" font-weight="normal" >SQ22536</text>
<path d="M279.1 131.5H422.4" stroke="#a0a0a0" stroke-width="0.9" fill="none"/>
<path d="M279.1 25.7V140" stroke="#000" stroke-width="1.3" fill="none"/>
<path d="M274.7 131.6H279.1M274.7 113.96H279.1M274.7 96.32H279.1M274.7 78.68H279.1M274.7 61.04H279.1M274.7 43.4H279.1M274.7 25.76H279.1" stroke="#000" stroke-width="1.3" fill="none"/>
<text x="274.1" y="134.7" font-size="8.6" text-anchor="end" font-weight="bold" >0.0</text>
<text x="274.1" y="117.06" font-size="8.6" text-anchor="end" font-weight="bold" >0.2</text>
<text x="274.1" y="99.42" font-size="8.6" text-anchor="end" font-weight="bold" >0.4</text>
<text x="274.1" y="81.78" font-size="8.6" text-anchor="end" font-weight="bold" >0.6</text>
<text x="274.1" y="64.14" font-size="8.6" text-anchor="end" font-weight="bold" >0.8</text>
<text x="274.1" y="46.5" font-size="8.6" text-anchor="end" font-weight="bold" >1.0</text>
<text x="274.1" y="28.86" font-size="8.6" text-anchor="end" font-weight="bold" >1.2</text>
<path d="M278.45 140H299.4M299.4 137.8V142.6M309.2 137.8V144.2M309.2 140H422.9" stroke="#000" stroke-width="1.35" fill="none"/>
<path d="M289 140V144M365.9 140V144.2M422.3 140V144.2M326.48 140V142.7M382.88 140V142.7M336.41 140V142.7M392.81 140V142.7M343.46 140V142.7M399.86 140V142.7M348.92 140V142.7M405.32 140V142.7M353.39 140V142.7M409.79 140V142.7M357.16 140V142.7M413.56 140V142.7M360.43 140V142.7M416.83 140V142.7M363.32 140V142.7M419.72 140V142.7" stroke="#000" stroke-width="1.2" fill="none"/>
<text x="289" y="154" font-size="8.6" text-anchor="middle" font-weight="bold" >0.0</text>
<text x="309.2" y="154" font-size="8.6" text-anchor="middle" font-weight="bold" >0.1</text>
<text x="365.9" y="154" font-size="8.6" text-anchor="middle" font-weight="bold" >1</text>
<text x="422.3" y="154" font-size="8.6" text-anchor="middle" font-weight="bold" >10</text>
<text transform="translate(260.1 81.2) rotate(-90)" x="0" y="0" font-size="9.2" text-anchor="middle" font-weight="bold">Normalized activity</text>
<text x="350.9" y="166.6" font-size="9.15" text-anchor="middle" font-weight="bold" >Concentration (<tspan font-weight="normal">µ</tspan>M)</text>
<path d="M289.3 74C290.33 74.92 293.68 77.27 295.5 79.5C297.32 81.73 298.65 84.32 300.2 87.4C301.75 90.48 303.47 95 304.8 98C306.13 101 307.08 103.63 308.2 105.4C309.32 107.17 309.48 107.53 311.5 108.6C313.52 109.67 316.77 110.77 320.3 111.8C323.83 112.83 327.02 113.53 332.7 114.8C338.38 116.07 347.02 117.77 354.4 119.4C361.78 121.03 369.4 123.13 377 124.6C384.6 126.07 392.45 127.32 400 128.2C407.55 129.08 418.58 129.62 422.3 129.9" stroke="#000000" stroke-width="1.6" fill="none"/>
<path d="M289.3 74C290.33 74.4 293.17 75.27 295.5 76.4C297.83 77.53 300.97 79.55 303.3 80.8C305.63 82.05 306.92 82.9 309.5 83.9C312.08 84.9 314.93 85.73 318.8 86.8C322.67 87.87 326.77 88.9 332.7 90.3C338.63 91.7 347.02 93.48 354.4 95.2C361.78 96.92 369.4 98.83 377 100.6C384.6 102.37 392.45 104.1 400 105.8C407.55 107.5 418.58 109.97 422.3 110.8" stroke="#3a8a3a" stroke-width="1.6" fill="none"/>
<path d="M289.3 65.5C290.08 65.62 292.47 65.73 294 66.2C295.53 66.67 297.17 67.3 298.5 68.3C299.83 69.3 300.85 70.87 302 72.2C303.15 73.53 304.15 74.93 305.4 76.3C306.65 77.67 307.27 78.12 309.5 80.4C311.73 82.68 314.93 86.57 318.8 90C322.67 93.43 328.33 98.13 332.7 101C337.07 103.87 341.38 105.6 345 107.2C348.62 108.8 349.07 109.37 354.4 110.6C359.73 111.83 369.4 113.67 377 114.6C384.6 115.53 392.45 115.88 400 116.2C407.55 116.52 418.58 116.45 422.3 116.5" stroke="#c8348e" stroke-width="1.6" fill="none"/>
<path d="M289.3 72.9C306.08 72.9 371.88 73 390 72.9C408.12 72.8 395.67 72.85 398 72.3C400.33 71.75 402 70.42 404 69.6C406 68.78 408 67.87 410 67.4C412 66.93 413.95 66.93 416 66.8C418.05 66.67 421.25 66.63 422.3 66.6" stroke="#2a2ccc" stroke-width="1.6" fill="none"/>
<path d="M289.3 66.8C292.75 66.88 302.88 66.9 310 67.3C317.12 67.7 324.5 68.65 332 69.2C339.5 69.75 347.5 70.3 355 70.6C362.5 70.9 365.78 70.93 377 71C388.22 71.07 414.75 71 422.3 71" stroke="#e02428" stroke-width="1.6" fill="none"/>
<path d="M289.3 68.8C292.75 68.83 302.88 68.97 310 69C317.12 69.03 324.67 68.9 332 69C339.33 69.1 347.67 69.37 354 69.6C360.33 69.83 365.67 70 370 70.4C374.33 70.8 376.67 71.3 380 72C383.33 72.7 386.67 73.57 390 74.6C393.33 75.63 396.5 76.43 400 78.2C403.5 79.97 407.28 82.4 411 85.2C414.72 88 420.42 93.37 422.3 95" stroke="#e69c50" stroke-width="1.6" fill="none"/>
<path d="M332.2 87.4V94.6M330 87.4H334.4M330 94.6H334.4M354.4 90.2V96.6M352.2 90.2H356.6M352.2 96.6H356.6M377 93.3V99.7M374.8 93.3H379.2M374.8 99.7H379.2M399.6 95.4V100.6M397.4 95.4H401.8M397.4 100.6H401.8" stroke="#3a8a3a" stroke-width="1.1" fill="none"/>
<path d="M286 76.4H290.5" stroke="#000" stroke-width="1.1" fill="none"/>
<path d="M399.6 70.3V76.3M397.6 70.3H401.6M397.6 76.3H401.6" stroke="#2a2ccc" stroke-width="1.1" fill="none"/>
<polygon points="289.3,77.2 292.3,72.2 286.3,72.2" fill="#3a8a3a"/>
<polygon points="310.1,92.1 313.1,87.11 307.1,87.11" fill="#3a8a3a"/>
<polygon points="332.5,93.7 335.5,88.7 329.5,88.7" fill="#3a8a3a"/>
<polygon points="355,96.1 358,91.11 352,91.11" fill="#3a8a3a"/>
<polygon points="377.4,99.2 380.4,94.2 374.4,94.2" fill="#3a8a3a"/>
<polygon points="399.9,100.7 402.9,95.7 396.9,95.7" fill="#3a8a3a"/>
<rect x="287.09" y="63.99" width="4.42" height="4.42" fill="#e02428"/>
<rect x="307.89" y="65.39" width="4.42" height="4.42" fill="#e02428"/>
<rect x="330.29" y="67.19" width="4.42" height="4.42" fill="#e02428"/>
<rect x="352.79" y="68.39" width="4.42" height="4.42" fill="#e02428"/>
<rect x="375.19" y="71.39" width="4.42" height="4.42" fill="#e02428"/>
<rect x="397.69" y="68.79" width="4.42" height="4.42" fill="#e02428"/>
<rect x="420.09" y="68.39" width="4.42" height="4.42" fill="#e02428"/>
<polygon points="289.3,69.5 292.3,74.5 286.3,74.5" fill="#2a2ccc"/>
<polygon points="310.1,68.7 313.1,73.7 307.1,73.7" fill="#2a2ccc"/>
<polygon points="332.5,72.3 335.5,77.3 329.5,77.3" fill="#2a2ccc"/>
<polygon points="355,72.7 358,77.7 352,77.7" fill="#2a2ccc"/>
<polygon points="377.4,71.3 380.4,76.3 374.4,76.3" fill="#2a2ccc"/>
<polygon points="399.9,70.6 402.9,75.59 396.9,75.59" fill="#2a2ccc"/>
<polygon points="422.3,64.1 425.3,69.09 419.3,69.09" fill="#2a2ccc"/>
<polygon points="289.3,63.9 292.2,66.8 289.3,69.7 286.4,66.8" fill="#e69c50"/>
<polygon points="310.1,62.3 313,65.2 310.1,68.1 307.2,65.2" fill="#e69c50"/>
<polygon points="332.5,66.1 335.4,69 332.5,71.9 329.6,69" fill="#e69c50"/>
<polygon points="355,66.5 357.9,69.4 355,72.3 352.1,69.4" fill="#e69c50"/>
<polygon points="377.4,67.7 380.3,70.6 377.4,73.5 374.5,70.6" fill="#e69c50"/>
<polygon points="399.9,74.3 402.8,77.2 399.9,80.1 397,77.2" fill="#e69c50"/>
<polygon points="422.3,92.1 425.2,95 422.3,97.9 419.4,95" fill="#e69c50"/>
<circle cx="289.3" cy="73" r="2.75" fill="#000000"/>
<circle cx="310.1" cy="109.7" r="2.75" fill="#000000"/>
<circle cx="332.5" cy="112.8" r="2.75" fill="#000000"/>
<circle cx="355" cy="117" r="2.75" fill="#000000"/>
<circle cx="377.4" cy="126" r="2.75" fill="#000000"/>
<circle cx="399.9" cy="129.8" r="2.75" fill="#000000"/>
<circle cx="422.3" cy="130.4" r="2.75" fill="#000000"/>
<circle cx="289.3" cy="64.8" r="2.95" fill="none" stroke="#c8348e" stroke-width="1.1"/>
<circle cx="310.1" cy="79.6" r="2.95" fill="none" stroke="#c8348e" stroke-width="1.1"/>
<circle cx="332.5" cy="100.4" r="2.95" fill="none" stroke="#c8348e" stroke-width="1.1"/>
<circle cx="355" cy="109.7" r="2.95" fill="none" stroke="#c8348e" stroke-width="1.1"/>
<circle cx="377.4" cy="115.1" r="2.95" fill="none" stroke="#c8348e" stroke-width="1.1"/>
<circle cx="399.9" cy="116.7" r="2.95" fill="none" stroke="#c8348e" stroke-width="1.1"/>
<circle cx="422.3" cy="116.7" r="2.95" fill="none" stroke="#c8348e" stroke-width="1.1"/>
<circle cx="440.1" cy="34" r="2.81" fill="#000000"/>
<text x="453" y="37.3" font-size="9.3" text-anchor="start" font-weight="normal" >Compound C</text>
<rect x="437.45" y="44.7" width="5.3" height="5.3" fill="#e02428"/>
<text x="453" y="50.65" font-size="9.3" text-anchor="start" font-weight="normal" >Metformin</text>
<polygon points="440.1,57.95 443.16,63.04 437.04,63.04" fill="#2a2ccc"/>
<text x="453" y="64" font-size="9.3" text-anchor="start" font-weight="normal" >AICAR</text>
<polygon points="440.1,76.8 443.16,71.71 437.04,71.71" fill="#3a8a3a"/>
<text x="453" y="77.35" font-size="9.3" text-anchor="start" font-weight="normal" >Rapamycin</text>
<polygon points="440.1,84.44 443.06,87.4 440.1,90.36 437.14,87.4" fill="#e69c50"/>
<text x="453" y="90.7" font-size="9.3" text-anchor="start" font-weight="normal" >Compound 401</text>
<circle cx="440.1" cy="100.75" r="3.01" fill="none" stroke="#c8348e" stroke-width="1.1"/>
<text x="453" y="104.05" font-size="9.3" text-anchor="start" font-weight="normal" >PI-103</text>
<path d="M279.4 302.5H422.8" stroke="#a0a0a0" stroke-width="0.9" fill="none"/>
<path d="M279.2 196.7V315.6" stroke="#000" stroke-width="1.3" fill="none"/>
<path d="M274.8 302.5H279.2M274.8 284.86H279.2M274.8 267.22H279.2M274.8 249.58H279.2M274.8 231.94H279.2M274.8 214.3H279.2M274.8 196.66H279.2" stroke="#000" stroke-width="1.3" fill="none"/>
<text x="274.2" y="305.6" font-size="8.6" text-anchor="end" font-weight="bold" >0.0</text>
<text x="274.2" y="287.96" font-size="8.6" text-anchor="end" font-weight="bold" >0.2</text>
<text x="274.2" y="270.32" font-size="8.6" text-anchor="end" font-weight="bold" >0.4</text>
<text x="274.2" y="252.68" font-size="8.6" text-anchor="end" font-weight="bold" >0.6</text>
<text x="274.2" y="235.04" font-size="8.6" text-anchor="end" font-weight="bold" >0.8</text>
<text x="274.2" y="217.4" font-size="8.6" text-anchor="end" font-weight="bold" >1.0</text>
<text x="274.2" y="199.76" font-size="8.6" text-anchor="end" font-weight="bold" >1.2</text>
<path d="M278.75 311.4H423.45" stroke="#000" stroke-width="1.4" fill="none"/>
<path d="M279.4 311.4V315.6M293.79 311.4V314.1M302.21 311.4V314.1M308.18 311.4V314.1M312.81 311.4V314.1M316.6 311.4V314.1M319.8 311.4V314.1M322.57 311.4V314.1M325.01 311.4V314.1M327.2 311.4V315.6M341.59 311.4V314.1M350.01 311.4V314.1M355.98 311.4V314.1M360.61 311.4V314.1M364.4 311.4V314.1M367.6 311.4V314.1M370.37 311.4V314.1M372.81 311.4V314.1M375 311.4V315.6M389.39 311.4V314.1M397.81 311.4V314.1M403.78 311.4V314.1M408.41 311.4V314.1M412.2 311.4V314.1M415.4 311.4V314.1M418.17 311.4V314.1M420.61 311.4V314.1M422.8 311.4V315.6" stroke="#000" stroke-width="1.2" fill="none"/>
<text x="279.4" y="324.6" font-size="8.6" text-anchor="middle" font-weight="bold" >0.01</text>
<text x="327.2" y="324.6" font-size="8.6" text-anchor="middle" font-weight="bold" >0.1</text>
<text x="375" y="324.6" font-size="8.6" text-anchor="middle" font-weight="bold" >1</text>
<text x="422.8" y="324.6" font-size="8.6" text-anchor="middle" font-weight="bold" >10</text>
<text transform="translate(260.1 252.2) rotate(-90)" x="0" y="0" font-size="9.2" text-anchor="middle" font-weight="bold">Normalized activity</text>
<text x="351" y="337.6" font-size="9.15" text-anchor="middle" font-weight="bold" >Kinetin riboside (<tspan font-weight="normal">µ</tspan>M)</text>
<path d="M293.26 301.45L294.34 301.45L295.42 301.45L296.5 301.45L297.58 301.45L298.66 301.45L299.74 301.45L300.82 301.45L301.9 301.45L302.98 301.45L304.06 301.45L305.14 301.45L306.22 301.45L307.3 301.45L308.38 301.46L309.46 301.46L310.54 301.46L311.61 301.46L312.69 301.46L313.77 301.46L314.85 301.46L315.93 301.46L317.01 301.46L318.09 301.46L319.17 301.47L320.25 301.47L321.33 301.47L322.41 301.47L323.49 301.47L324.57 301.47L325.65 301.47L326.73 301.47L327.81 301.48L328.89 301.48L329.97 301.48L331.05 301.48L332.12 301.48L333.2 301.49L334.28 301.49L335.36 301.49L336.44 301.49L337.52 301.5L338.6 301.5L339.68 301.5L340.76 301.51L341.84 301.51L342.92 301.51L344 301.52L345.08 301.52L346.16 301.52L347.24 301.53L348.32 301.53L349.4 301.54L350.48 301.54L351.56 301.54L352.63 301.55L353.71 301.55L354.79 301.56L355.87 301.57L356.95 301.57L358.03 301.58L359.11 301.58L360.19 301.59L361.27 301.6L362.35 301.6L363.43 301.61L364.51 301.62L365.59 301.63L366.67 301.63L367.75 301.64L368.83 301.65L369.91 301.66L370.99 301.67L372.06 301.68L373.14 301.69L374.22 301.7L375.3 301.71L376.38 301.72L377.46 301.73L378.54 301.74L379.62 301.75L380.7 301.76L381.78 301.78L382.86 301.79L383.94 301.8L385.02 301.81L386.1 301.83L387.18 301.84L388.26 301.85L389.34 301.86L390.42 301.88L391.5 301.89L392.57 301.9L393.65 301.92L394.73 301.93L395.81 301.95L396.89 301.96L397.97 301.97L399.05 301.99L400.13 302L401.21 302.01L402.29 302.03L403.37 302.04L404.45 302.05L405.53 302.07L406.61 302.08L407.69 302.09L408.77 302.11L409.85 302.12L410.93 302.13L412.01 302.15L413.08 302.16L414.16 302.17L415.24 302.18L416.32 302.19L417.4 302.2L418.48 302.21L419.56 302.23L420.64 302.24L421.72 302.25L422.8 302.26" stroke="#000000" stroke-width="1.55" fill="none"/>
<path d="M293.26 241.76L294.34 241.78L295.42 241.81L296.5 241.84L297.58 241.87L298.66 241.91L299.74 241.95L300.82 242L301.9 242.06L302.98 242.13L304.06 242.22L305.14 242.31L306.22 242.43L307.3 242.56L308.38 242.71L309.46 242.88L310.54 243.09L311.61 243.33L312.69 243.6L313.77 243.92L314.85 244.29L315.93 244.71L317.01 245.2L318.09 245.76L319.17 246.4L320.25 247.13L321.33 247.96L322.41 248.9L323.49 249.96L324.57 251.15L325.65 252.47L326.73 253.93L327.81 255.54L328.89 257.29L329.97 259.17L331.05 261.19L332.12 263.32L333.2 265.55L334.28 267.86L335.36 270.22L336.44 272.61L337.52 275L338.6 277.35L339.68 279.64L340.76 281.85L341.84 283.95L342.92 285.93L344 287.78L345.08 289.49L346.16 291.06L347.24 292.48L348.32 293.76L349.4 294.92L350.48 295.94L351.56 296.85L352.63 297.66L353.71 298.36L354.79 298.98L355.87 299.52L356.95 299.99L358.03 300.4L359.11 300.75L360.19 301.06L361.27 301.32L362.35 301.55L363.43 301.75L364.51 301.92L365.59 302.06L366.67 302.19L367.75 302.3L368.83 302.39L369.91 302.47L370.99 302.54L372.06 302.59L373.14 302.64L374.22 302.69L375.3 302.72L376.38 302.75L377.46 302.78L378.54 302.8L379.62 302.82L380.7 302.84L381.78 302.86L382.86 302.87L383.94 302.88L385.02 302.89L386.1 302.9L387.18 302.9L388.26 302.91L389.34 302.91L390.42 302.92L391.5 302.92L392.57 302.92L393.65 302.93L394.73 302.93L395.81 302.93L396.89 302.93L397.97 302.93L399.05 302.93L400.13 302.93L401.21 302.94L402.29 302.94L403.37 302.94L404.45 302.94L405.53 302.94L406.61 302.94L407.69 302.94L408.77 302.94L409.85 302.94L410.93 302.94L412.01 302.94L413.08 302.94L414.16 302.94L415.24 302.94L416.32 302.94L417.4 302.94L418.48 302.94L419.56 302.94L420.64 302.94L421.72 302.94L422.8 302.94" stroke="#e02428" stroke-width="1.55" fill="none"/>
<path d="M293.26 235.57L294.34 235.59L295.42 235.61L296.5 235.64L297.58 235.66L298.66 235.7L299.74 235.74L300.82 235.78L301.9 235.83L302.98 235.89L304.06 235.97L305.14 236.05L306.22 236.15L307.3 236.26L308.38 236.39L309.46 236.55L310.54 236.72L311.61 236.93L312.69 237.17L313.77 237.45L314.85 237.78L315.93 238.15L317.01 238.58L318.09 239.08L319.17 239.65L320.25 240.31L321.33 241.06L322.41 241.91L323.49 242.88L324.57 243.97L325.65 245.2L326.73 246.57L327.81 248.09L328.89 249.77L329.97 251.61L331.05 253.6L332.12 255.75L333.2 258.03L334.28 260.43L335.36 262.92L336.44 265.5L337.52 268.11L338.6 270.74L339.68 273.35L340.76 275.92L341.84 278.4L342.92 280.78L344 283.04L345.08 285.15L346.16 287.12L347.24 288.93L348.32 290.58L349.4 292.08L350.48 293.43L351.56 294.63L352.63 295.71L353.71 296.65L354.79 297.49L355.87 298.22L356.95 298.86L358.03 299.42L359.11 299.91L360.19 300.33L361.27 300.69L362.35 301.01L363.43 301.28L364.51 301.51L365.59 301.72L366.67 301.89L367.75 302.04L368.83 302.17L369.91 302.28L370.99 302.37L372.06 302.46L373.14 302.53L374.22 302.58L375.3 302.64L376.38 302.68L377.46 302.72L378.54 302.75L379.62 302.78L380.7 302.8L381.78 302.82L382.86 302.84L383.94 302.85L385.02 302.87L386.1 302.88L387.18 302.89L388.26 302.89L389.34 302.9L390.42 302.91L391.5 302.91L392.57 302.92L393.65 302.92L394.73 302.92L395.81 302.93L396.89 302.93L397.97 302.93L399.05 302.93L400.13 302.93L401.21 302.93L402.29 302.93L403.37 302.94L404.45 302.94L405.53 302.94L406.61 302.94L407.69 302.94L408.77 302.94L409.85 302.94L410.93 302.94L412.01 302.94L413.08 302.94L414.16 302.94L415.24 302.94L416.32 302.94L417.4 302.94L418.48 302.94L419.56 302.94L420.64 302.94L421.72 302.94L422.8 302.94" stroke="#2a2ccc" stroke-width="1.55" fill="none"/>
<path d="M293.26 285.74L294.34 285.74L295.42 285.74L296.5 285.74L297.58 285.74L298.66 285.74L299.74 285.74L300.82 285.74L301.9 285.74L302.98 285.74L304.06 285.74L305.14 285.74L306.22 285.74L307.3 285.74L308.38 285.74L309.46 285.74L310.54 285.74L311.61 285.74L312.69 285.75L313.77 285.75L314.85 285.75L315.93 285.75L317.01 285.75L318.09 285.75L319.17 285.75L320.25 285.75L321.33 285.75L322.41 285.75L323.49 285.75L324.57 285.76L325.65 285.76L326.73 285.76L327.81 285.76L328.89 285.77L329.97 285.77L331.05 285.77L332.12 285.78L333.2 285.78L334.28 285.79L335.36 285.79L336.44 285.8L337.52 285.81L338.6 285.82L339.68 285.83L340.76 285.84L341.84 285.85L342.92 285.87L344 285.89L345.08 285.91L346.16 285.93L347.24 285.95L348.32 285.98L349.4 286.02L350.48 286.05L351.56 286.1L352.63 286.14L353.71 286.2L354.79 286.26L355.87 286.33L356.95 286.41L358.03 286.49L359.11 286.59L360.19 286.71L361.27 286.83L362.35 286.97L363.43 287.13L364.51 287.3L365.59 287.49L366.67 287.71L367.75 287.95L368.83 288.21L369.91 288.49L370.99 288.81L372.06 289.15L373.14 289.51L374.22 289.9L375.3 290.32L376.38 290.77L377.46 291.24L378.54 291.73L379.62 292.24L380.7 292.76L381.78 293.3L382.86 293.84L383.94 294.38L385.02 294.93L386.1 295.46L387.18 295.99L388.26 296.5L389.34 296.99L390.42 297.46L391.5 297.9L392.57 298.32L393.65 298.72L394.73 299.09L395.81 299.42L396.89 299.74L397.97 300.03L399.05 300.29L400.13 300.52L401.21 300.74L402.29 300.93L403.37 301.11L404.45 301.27L405.53 301.41L406.61 301.53L407.69 301.64L408.77 301.74L409.85 301.83L410.93 301.91L412.01 301.98L413.08 302.04L414.16 302.1L415.24 302.14L416.32 302.19L417.4 302.22L418.48 302.26L419.56 302.29L420.64 302.31L421.72 302.34L422.8 302.36" stroke="#3a8a3a" stroke-width="1.55" fill="none"/>
<path d="M293.26 266.7L294.34 266.73L295.42 266.78L296.5 266.83L297.58 266.88L298.66 266.94L299.74 267L300.82 267.07L301.9 267.15L302.98 267.24L304.06 267.33L305.14 267.44L306.22 267.56L307.3 267.68L308.38 267.83L309.46 267.98L310.54 268.15L311.61 268.34L312.69 268.55L313.77 268.77L314.85 269.02L315.93 269.29L317.01 269.58L318.09 269.9L319.17 270.25L320.25 270.63L321.33 271.04L322.41 271.48L323.49 271.96L324.57 272.47L325.65 273.02L326.73 273.6L327.81 274.22L328.89 274.88L329.97 275.58L331.05 276.31L332.12 277.08L333.2 277.88L334.28 278.71L335.36 279.57L336.44 280.46L337.52 281.36L338.6 282.28L339.68 283.22L340.76 284.15L341.84 285.09L342.92 286.03L344 286.96L345.08 287.87L346.16 288.77L347.24 289.64L348.32 290.49L349.4 291.31L350.48 292.1L351.56 292.85L352.63 293.57L353.71 294.25L354.79 294.89L355.87 295.5L356.95 296.07L358.03 296.6L359.11 297.09L360.19 297.56L361.27 297.98L362.35 298.38L363.43 298.74L364.51 299.08L365.59 299.39L366.67 299.67L367.75 299.93L368.83 300.17L369.91 300.39L370.99 300.58L372.06 300.76L373.14 300.93L374.22 301.08L375.3 301.21L376.38 301.34L377.46 301.45L378.54 301.55L379.62 301.64L380.7 301.72L381.78 301.8L382.86 301.87L383.94 301.93L385.02 301.98L386.1 302.03L387.18 302.08L388.26 302.12L389.34 302.16L390.42 302.19L391.5 302.22L392.57 302.25L393.65 302.27L394.73 302.3L395.81 302.32L396.89 302.33L397.97 302.35L399.05 302.36L400.13 302.38L401.21 302.39L402.29 302.4L403.37 302.41L404.45 302.42L405.53 302.43L406.61 302.43L407.69 302.44L408.77 302.45L409.85 302.45L410.93 302.46L412.01 302.46L413.08 302.46L414.16 302.47L415.24 302.47L416.32 302.47L417.4 302.48L418.48 302.48L419.56 302.48L420.64 302.48L421.72 302.48L422.8 302.49" stroke="#e69c50" stroke-width="1.55" fill="none"/>
<path d="M293.26 287.98L294.34 287.98L295.42 287.99L296.5 287.99L297.58 288L298.66 288L299.74 288.01L300.82 288.01L301.9 288.02L302.98 288.03L304.06 288.04L305.14 288.05L306.22 288.06L307.3 288.07L308.38 288.08L309.46 288.1L310.54 288.12L311.61 288.13L312.69 288.15L313.77 288.18L314.85 288.2L315.93 288.23L317.01 288.26L318.09 288.29L319.17 288.33L320.25 288.37L321.33 288.41L322.41 288.46L323.49 288.52L324.57 288.58L325.65 288.64L326.73 288.72L327.81 288.8L328.89 288.88L329.97 288.98L331.05 289.08L332.12 289.2L333.2 289.32L334.28 289.46L335.36 289.61L336.44 289.77L337.52 289.94L338.6 290.13L339.68 290.33L340.76 290.54L341.84 290.77L342.92 291.02L344 291.28L345.08 291.56L346.16 291.85L347.24 292.16L348.32 292.48L349.4 292.82L350.48 293.17L351.56 293.52L352.63 293.89L353.71 294.27L354.79 294.65L355.87 295.04L356.95 295.43L358.03 295.82L359.11 296.21L360.19 296.59L361.27 296.97L362.35 297.34L363.43 297.7L364.51 298.05L365.59 298.38L366.67 298.71L367.75 299.01L368.83 299.31L369.91 299.59L370.99 299.85L372.06 300.1L373.14 300.33L374.22 300.55L375.3 300.75L376.38 300.94L377.46 301.11L378.54 301.27L379.62 301.42L380.7 301.55L381.78 301.68L382.86 301.8L383.94 301.9L385.02 302L386.1 302.08L387.18 302.17L388.26 302.24L389.34 302.3L390.42 302.37L391.5 302.42L392.57 302.47L393.65 302.52L394.73 302.56L395.81 302.59L396.89 302.63L397.97 302.66L399.05 302.68L400.13 302.71L401.21 302.73L402.29 302.75L403.37 302.77L404.45 302.79L405.53 302.8L406.61 302.82L407.69 302.83L408.77 302.84L409.85 302.85L410.93 302.86L412.01 302.87L413.08 302.87L414.16 302.88L415.24 302.89L416.32 302.89L417.4 302.9L418.48 302.9L419.56 302.9L420.64 302.91L421.72 302.91L422.8 302.91" stroke="#c8348e" stroke-width="1.55" fill="none"/>
<path d="M293.26 234.24L294.34 234.25L295.42 234.27L296.5 234.29L297.58 234.31L298.66 234.34L299.74 234.37L300.82 234.41L301.9 234.46L302.98 234.51L304.06 234.57L305.14 234.64L306.22 234.73L307.3 234.83L308.38 234.94L309.46 235.07L310.54 235.23L311.61 235.4L312.69 235.61L313.77 235.85L314.85 236.13L315.93 236.46L317.01 236.83L318.09 237.27L319.17 237.77L320.25 238.34L321.33 239L322.41 239.75L323.49 240.61L324.57 241.58L325.65 242.68L326.73 243.92L327.81 245.3L328.89 246.84L329.97 248.53L331.05 250.39L332.12 252.4L333.2 254.57L334.28 256.88L335.36 259.31L336.44 261.85L337.52 264.47L338.6 267.13L339.68 269.81L340.76 272.48L341.84 275.1L342.92 277.64L344 280.08L345.08 282.4L346.16 284.57L347.24 286.59L348.32 288.46L349.4 290.16L350.48 291.71L351.56 293.1L352.63 294.34L353.71 295.45L354.79 296.43L355.87 297.29L356.95 298.05L358.03 298.71L359.11 299.29L360.19 299.79L361.27 300.23L362.35 300.61L363.43 300.94L364.51 301.22L365.59 301.46L366.67 301.67L367.75 301.85L368.83 302.01L369.91 302.14L370.99 302.25L372.06 302.35L373.14 302.44L374.22 302.51L375.3 302.57L376.38 302.62L377.46 302.67L378.54 302.71L379.62 302.74L380.7 302.77L381.78 302.8L382.86 302.82L383.94 302.83L385.02 302.85L386.1 302.86L387.18 302.87L388.26 302.88L389.34 302.89L390.42 302.9L391.5 302.91L392.57 302.91L393.65 302.91L394.73 302.92L395.81 302.92L396.89 302.92L397.97 302.93L399.05 302.93L400.13 302.93L401.21 302.93L402.29 302.93L403.37 302.93L404.45 302.94L405.53 302.94L406.61 302.94L407.69 302.94L408.77 302.94L409.85 302.94L410.93 302.94L412.01 302.94L413.08 302.94L414.16 302.94L415.24 302.94L416.32 302.94L417.4 302.94L418.48 302.94L419.56 302.94L420.64 302.94L421.72 302.94L422.8 302.94" stroke="#7c1630" stroke-width="1.55" fill="none"/>
<circle cx="293.3" cy="301.7" r="2.75" fill="#000000"/>
<circle cx="307.69" cy="302.03" r="2.75" fill="#000000"/>
<circle cx="322.08" cy="302.18" r="2.75" fill="#000000"/>
<circle cx="336.46" cy="300.62" r="2.75" fill="#000000"/>
<circle cx="350.85" cy="301.38" r="2.75" fill="#000000"/>
<circle cx="365.24" cy="301.22" r="2.75" fill="#000000"/>
<circle cx="379.63" cy="301.64" r="2.75" fill="#000000"/>
<circle cx="394.02" cy="302.17" r="2.75" fill="#000000"/>
<circle cx="408.41" cy="301.61" r="2.75" fill="#000000"/>
<circle cx="422.8" cy="302.09" r="2.75" fill="#000000"/>
<rect x="290.7" y="238.87" width="5.2" height="5.2" fill="#e02428"/>
<rect x="305.09" y="241.01" width="5.2" height="5.2" fill="#e02428"/>
<rect x="319.48" y="246.48" width="5.2" height="5.2" fill="#e02428"/>
<rect x="333.86" y="270.65" width="5.2" height="5.2" fill="#e02428"/>
<rect x="348.25" y="293.17" width="5.2" height="5.2" fill="#e02428"/>
<rect x="362.64" y="299.05" width="5.2" height="5.2" fill="#e02428"/>
<rect x="377.03" y="299.39" width="5.2" height="5.2" fill="#e02428"/>
<rect x="391.42" y="301.66" width="5.2" height="5.2" fill="#e02428"/>
<rect x="405.81" y="301.22" width="5.2" height="5.2" fill="#e02428"/>
<rect x="420.2" y="301.34" width="5.2" height="5.2" fill="#e02428"/>
<polygon points="293.3,233.85 296.3,238.85 290.3,238.85" fill="#2a2ccc"/>
<polygon points="307.69,233.19 310.69,238.19 304.69,238.19" fill="#2a2ccc"/>
<polygon points="322.08,239.69 325.08,244.68 319.08,244.68" fill="#2a2ccc"/>
<polygon points="336.46,262.93 339.46,267.92 333.46,267.92" fill="#2a2ccc"/>
<polygon points="350.85,290.8 353.85,295.8 347.85,295.8" fill="#2a2ccc"/>
<polygon points="365.24,298.34 368.24,303.33 362.24,303.33" fill="#2a2ccc"/>
<polygon points="379.63,300.18 382.63,305.17 376.63,305.17" fill="#2a2ccc"/>
<polygon points="394.02,300.22 397.02,305.22 391.02,305.22" fill="#2a2ccc"/>
<polygon points="408.41,301.26 411.41,306.25 405.41,306.25" fill="#2a2ccc"/>
<polygon points="422.8,300.38 425.8,305.38 419.8,305.38" fill="#2a2ccc"/>
<polygon points="293.3,288.64 296.3,283.64 290.3,283.64" fill="#3a8a3a"/>
<polygon points="307.69,288.35 310.69,283.36 304.69,283.36" fill="#3a8a3a"/>
<polygon points="322.08,287.69 325.08,282.69 319.08,282.69" fill="#3a8a3a"/>
<polygon points="336.46,289.18 339.46,284.19 333.46,284.19" fill="#3a8a3a"/>
<polygon points="350.85,289.35 353.85,284.35 347.85,284.35" fill="#3a8a3a"/>
<polygon points="365.24,291.13 368.24,286.13 362.24,286.13" fill="#3a8a3a"/>
<polygon points="379.63,295.76 382.63,290.76 376.63,290.76" fill="#3a8a3a"/>
<polygon points="394.02,302.59 397.02,297.59 391.02,297.59" fill="#3a8a3a"/>
<polygon points="408.41,305.14 411.41,300.14 405.41,300.14" fill="#3a8a3a"/>
<polygon points="422.8,305.03 425.8,300.03 419.8,300.03" fill="#3a8a3a"/>
<polygon points="293.3,264.28 296.2,267.18 293.3,270.08 290.4,267.18" fill="#e69c50"/>
<polygon points="307.69,264.86 310.59,267.76 307.69,270.66 304.79,267.76" fill="#e69c50"/>
<polygon points="322.08,269.32 324.98,272.22 322.08,275.12 319.18,272.22" fill="#e69c50"/>
<polygon points="336.46,277.92 339.36,280.82 336.46,283.72 333.56,280.82" fill="#e69c50"/>
<polygon points="350.85,290.37 353.75,293.27 350.85,296.17 347.95,293.27" fill="#e69c50"/>
<polygon points="365.24,297.43 368.14,300.33 365.24,303.23 362.34,300.33" fill="#e69c50"/>
<polygon points="379.63,299.2 382.53,302.1 379.63,305 376.73,302.1" fill="#e69c50"/>
<polygon points="394.02,300.19 396.92,303.09 394.02,305.99 391.12,303.09" fill="#e69c50"/>
<polygon points="408.41,299.95 411.31,302.85 408.41,305.75 405.51,302.85" fill="#e69c50"/>
<polygon points="422.8,299.07 425.7,301.97 422.8,304.87 419.9,301.97" fill="#e69c50"/>
<circle cx="293.3" cy="289.71" r="2.95" fill="none" stroke="#c8348e" stroke-width="1.1"/>
<circle cx="307.69" cy="288.29" r="2.95" fill="none" stroke="#c8348e" stroke-width="1.1"/>
<circle cx="322.08" cy="288.26" r="2.95" fill="none" stroke="#c8348e" stroke-width="1.1"/>
<circle cx="336.46" cy="289.01" r="2.95" fill="none" stroke="#c8348e" stroke-width="1.1"/>
<circle cx="350.85" cy="293.86" r="2.95" fill="none" stroke="#c8348e" stroke-width="1.1"/>
<circle cx="365.24" cy="298.24" r="2.95" fill="none" stroke="#c8348e" stroke-width="1.1"/>
<circle cx="379.63" cy="301.24" r="2.95" fill="none" stroke="#c8348e" stroke-width="1.1"/>
<circle cx="394.02" cy="301.58" r="2.95" fill="none" stroke="#c8348e" stroke-width="1.1"/>
<circle cx="408.41" cy="303.83" r="2.95" fill="none" stroke="#c8348e" stroke-width="1.1"/>
<circle cx="422.8" cy="303.83" r="2.95" fill="none" stroke="#c8348e" stroke-width="1.1"/>
<rect x="290.55" y="232.28" width="5.5" height="5.5" fill="none" stroke="#7c1630" stroke-width="1.1"/>
<rect x="304.94" y="229.19" width="5.5" height="5.5" fill="none" stroke="#7c1630" stroke-width="1.1"/>
<rect x="319.33" y="234.48" width="5.5" height="5.5" fill="none" stroke="#7c1630" stroke-width="1.1"/>
<rect x="333.71" y="259.48" width="5.5" height="5.5" fill="none" stroke="#7c1630" stroke-width="1.1"/>
<rect x="348.1" y="289.43" width="5.5" height="5.5" fill="none" stroke="#7c1630" stroke-width="1.1"/>
<rect x="362.49" y="298.87" width="5.5" height="5.5" fill="none" stroke="#7c1630" stroke-width="1.1"/>
<rect x="376.88" y="301.51" width="5.5" height="5.5" fill="none" stroke="#7c1630" stroke-width="1.1"/>
<rect x="391.27" y="301.95" width="5.5" height="5.5" fill="none" stroke="#7c1630" stroke-width="1.1"/>
<rect x="405.66" y="302.22" width="5.5" height="5.5" fill="none" stroke="#7c1630" stroke-width="1.1"/>
<rect x="420.05" y="300.19" width="5.5" height="5.5" fill="none" stroke="#7c1630" stroke-width="1.1"/>
<circle cx="440.7" cy="204.5" r="2.81" fill="#000000"/>
<text x="453.7" y="207.8" font-size="9.3" text-anchor="start" font-weight="normal" >Compound C</text>
<rect x="438.05" y="215.27" width="5.3" height="5.3" fill="#e02428"/>
<text x="453.7" y="221.22" font-size="9.3" text-anchor="start" font-weight="normal" >Metformin</text>
<polygon points="440.7,228.59 443.76,233.68 437.64,233.68" fill="#2a2ccc"/>
<text x="453.7" y="234.64" font-size="9.3" text-anchor="start" font-weight="normal" >AICAR</text>
<polygon points="440.7,247.51 443.76,242.42 437.64,242.42" fill="#3a8a3a"/>
<text x="453.7" y="248.06" font-size="9.3" text-anchor="start" font-weight="normal" >Rapamycin</text>
<polygon points="440.7,255.22 443.66,258.18 440.7,261.14 437.74,258.18" fill="#e69c50"/>
<text x="453.7" y="261.48" font-size="9.3" text-anchor="start" font-weight="normal" >Compound 401</text>
<circle cx="440.7" cy="271.6" r="3.01" fill="none" stroke="#c8348e" stroke-width="1.1"/>
<text x="453.7" y="274.9" font-size="9.3" text-anchor="start" font-weight="normal" >PI-103</text>
<rect x="437.89" y="282.21" width="5.61" height="5.61" fill="none" stroke="#7c1630" stroke-width="1.1"/>
<text x="453.7" y="288.32" font-size="9.3" text-anchor="start" font-weight="normal" >Vehicle</text>
<path d="M278.8 368.3V487.1" stroke="#000" stroke-width="1.3" fill="none"/>
<path d="M274.4 482.9H278.8M274.4 463.8H278.8M274.4 444.7H278.8M274.4 425.6H278.8M274.4 406.5H278.8M274.4 387.4H278.8M274.4 368.3H278.8" stroke="#000" stroke-width="1.3" fill="none"/>
<text x="273.8" y="486" font-size="8.6" text-anchor="end" font-weight="bold" >0.0</text>
<text x="273.8" y="466.9" font-size="8.6" text-anchor="end" font-weight="bold" >0.2</text>
<text x="273.8" y="447.8" font-size="8.6" text-anchor="end" font-weight="bold" >0.4</text>
<text x="273.8" y="428.7" font-size="8.6" text-anchor="end" font-weight="bold" >0.6</text>
<text x="273.8" y="409.6" font-size="8.6" text-anchor="end" font-weight="bold" >0.8</text>
<text x="273.8" y="390.5" font-size="8.6" text-anchor="end" font-weight="bold" >1.0</text>
<text x="273.8" y="371.4" font-size="8.6" text-anchor="end" font-weight="bold" >1.2</text>
<path d="M278.75 482.9H423.45" stroke="#000" stroke-width="1.4" fill="none"/>
<path d="M279.4 482.9V487.1M293.79 482.9V485.6M302.21 482.9V485.6M308.18 482.9V485.6M312.81 482.9V485.6M316.6 482.9V485.6M319.8 482.9V485.6M322.57 482.9V485.6M325.01 482.9V485.6M327.2 482.9V487.1M341.59 482.9V485.6M350.01 482.9V485.6M355.98 482.9V485.6M360.61 482.9V485.6M364.4 482.9V485.6M367.6 482.9V485.6M370.37 482.9V485.6M372.81 482.9V485.6M375 482.9V487.1M389.39 482.9V485.6M397.81 482.9V485.6M403.78 482.9V485.6M408.41 482.9V485.6M412.2 482.9V485.6M415.4 482.9V485.6M418.17 482.9V485.6M420.61 482.9V485.6M422.8 482.9V487.1" stroke="#000" stroke-width="1.2" fill="none"/>
<text x="279.4" y="496.3" font-size="8.6" text-anchor="middle" font-weight="bold" >0.01</text>
<text x="327.2" y="496.3" font-size="8.6" text-anchor="middle" font-weight="bold" >0.1</text>
<text x="375" y="496.3" font-size="8.6" text-anchor="middle" font-weight="bold" >1</text>
<text x="422.8" y="496.3" font-size="8.6" text-anchor="middle" font-weight="bold" >10</text>
<text transform="translate(260.1 424.3) rotate(-90)" x="0" y="0" font-size="9.2" text-anchor="middle" font-weight="bold">Normalized activity</text>
<text x="350.6" y="509.5" font-size="9.15" text-anchor="middle" font-weight="bold" >Rapamycin (<tspan font-weight="normal">µ</tspan>M)</text>
<circle cx="293.3" cy="394.58" r="2.75" fill="#000000"/>
<circle cx="307.69" cy="394.35" r="2.75" fill="#000000"/>
<circle cx="322.08" cy="393.38" r="2.75" fill="#000000"/>
<circle cx="336.46" cy="395.25" r="2.75" fill="#000000"/>
<circle cx="350.85" cy="395.25" r="2.75" fill="#000000"/>
<circle cx="365.24" cy="393.84" r="2.75" fill="#000000"/>
<circle cx="379.63" cy="394.73" r="2.75" fill="#000000"/>
<circle cx="394.02" cy="396.02" r="2.75" fill="#000000"/>
<circle cx="408.41" cy="401.8" r="2.75" fill="#000000"/>
<circle cx="422.8" cy="430.81" r="2.75" fill="#000000"/>
<path d="M293.26 394.56L294.34 394.56L295.42 394.56L296.5 394.56L297.58 394.56L298.66 394.56L299.74 394.56L300.82 394.56L301.9 394.56L302.98 394.56L304.06 394.56L305.14 394.56L306.22 394.56L307.3 394.56L308.38 394.56L309.46 394.56L310.54 394.56L311.61 394.56L312.69 394.56L313.77 394.56L314.85 394.56L315.93 394.56L317.01 394.56L318.09 394.56L319.17 394.56L320.25 394.56L321.33 394.56L322.41 394.56L323.49 394.56L324.57 394.56L325.65 394.56L326.73 394.56L327.81 394.56L328.89 394.56L329.97 394.56L331.05 394.56L332.12 394.56L333.2 394.56L334.28 394.56L335.36 394.56L336.44 394.56L337.52 394.56L338.6 394.56L339.68 394.56L340.76 394.56L341.84 394.56L342.92 394.56L344 394.56L345.08 394.56L346.16 394.56L347.24 394.56L348.32 394.56L349.4 394.56L350.48 394.56L351.56 394.56L352.63 394.56L353.71 394.57L354.79 394.57L355.87 394.57L356.95 394.57L358.03 394.57L359.11 394.57L360.19 394.57L361.27 394.57L362.35 394.57L363.43 394.57L364.51 394.58L365.59 394.58L366.67 394.58L367.75 394.58L368.83 394.59L369.91 394.59L370.99 394.6L372.06 394.6L373.14 394.61L374.22 394.62L375.3 394.62L376.38 394.64L377.46 394.65L378.54 394.66L379.62 394.68L380.7 394.7L381.78 394.72L382.86 394.75L383.94 394.78L385.02 394.82L386.1 394.86L387.18 394.91L388.26 394.97L389.34 395.03L390.42 395.11L391.5 395.2L392.57 395.31L393.65 395.44L394.73 395.58L395.81 395.75L396.89 395.95L397.97 396.18L399.05 396.45L400.13 396.76L401.21 397.12L402.29 397.54L403.37 398.02L404.45 398.58L405.53 399.22L406.61 399.96L407.69 400.8L408.77 401.77L409.85 402.87L410.93 404.12L412.01 405.54L413.08 407.12L414.16 408.9L415.24 410.88L416.32 413.05L417.4 415.44L418.48 418.02L419.56 420.81L420.64 423.77L421.72 426.9L422.8 430.16" stroke="#000000" stroke-width="1.6" fill="none"/>
<rect x="290.7" y="390.81" width="5.2" height="5.2" fill="#e02428"/>
<rect x="305.09" y="393.69" width="5.2" height="5.2" fill="#e02428"/>
<rect x="319.48" y="390.64" width="5.2" height="5.2" fill="#e02428"/>
<rect x="333.86" y="393.44" width="5.2" height="5.2" fill="#e02428"/>
<rect x="348.25" y="392.58" width="5.2" height="5.2" fill="#e02428"/>
<rect x="362.64" y="390.94" width="5.2" height="5.2" fill="#e02428"/>
<rect x="377.03" y="393.13" width="5.2" height="5.2" fill="#e02428"/>
<rect x="391.42" y="393.52" width="5.2" height="5.2" fill="#e02428"/>
<rect x="405.81" y="401.87" width="5.2" height="5.2" fill="#e02428"/>
<rect x="420.2" y="430.17" width="5.2" height="5.2" fill="#e02428"/>
<path d="M293.26 395.04L294.34 395.04L295.42 395.04L296.5 395.04L297.58 395.04L298.66 395.04L299.74 395.04L300.82 395.04L301.9 395.04L302.98 395.04L304.06 395.04L305.14 395.04L306.22 395.04L307.3 395.04L308.38 395.04L309.46 395.04L310.54 395.04L311.61 395.04L312.69 395.04L313.77 395.04L314.85 395.04L315.93 395.04L317.01 395.04L318.09 395.04L319.17 395.04L320.25 395.04L321.33 395.04L322.41 395.04L323.49 395.04L324.57 395.04L325.65 395.04L326.73 395.04L327.81 395.04L328.89 395.04L329.97 395.04L331.05 395.04L332.12 395.04L333.2 395.04L334.28 395.04L335.36 395.04L336.44 395.04L337.52 395.04L338.6 395.04L339.68 395.04L340.76 395.04L341.84 395.04L342.92 395.04L344 395.04L345.08 395.04L346.16 395.04L347.24 395.04L348.32 395.04L349.4 395.04L350.48 395.04L351.56 395.04L352.63 395.04L353.71 395.04L354.79 395.04L355.87 395.04L356.95 395.05L358.03 395.05L359.11 395.05L360.19 395.05L361.27 395.05L362.35 395.05L363.43 395.05L364.51 395.06L365.59 395.06L366.67 395.06L367.75 395.07L368.83 395.07L369.91 395.07L370.99 395.08L372.06 395.09L373.14 395.09L374.22 395.1L375.3 395.11L376.38 395.13L377.46 395.14L378.54 395.16L379.62 395.18L380.7 395.2L381.78 395.23L382.86 395.26L383.94 395.3L385.02 395.34L386.1 395.4L387.18 395.45L388.26 395.52L389.34 395.61L390.42 395.7L391.5 395.81L392.57 395.94L393.65 396.09L394.73 396.26L395.81 396.47L396.89 396.7L397.97 396.98L399.05 397.3L400.13 397.67L401.21 398.1L402.29 398.59L403.37 399.16L404.45 399.82L405.53 400.58L406.61 401.45L407.69 402.44L408.77 403.56L409.85 404.84L410.93 406.28L412.01 407.9L413.08 409.71L414.16 411.72L415.24 413.93L416.32 416.35L417.4 418.96L418.48 421.77L419.56 424.76L420.64 427.9L421.72 431.17L422.8 434.53" stroke="#e02428" stroke-width="1.6" fill="none"/>
<polygon points="293.3,392.07 296.3,397.07 290.3,397.07" fill="#2a2ccc"/>
<polygon points="307.69,392.65 310.69,397.64 304.69,397.64" fill="#2a2ccc"/>
<polygon points="322.08,390.3 325.08,395.29 319.08,395.29" fill="#2a2ccc"/>
<polygon points="336.46,391.92 339.46,396.92 333.46,396.92" fill="#2a2ccc"/>
<polygon points="350.85,393.44 353.85,398.44 347.85,398.44" fill="#2a2ccc"/>
<polygon points="365.24,390.94 368.24,395.94 362.24,395.94" fill="#2a2ccc"/>
<polygon points="379.63,393.81 382.63,398.8 376.63,398.8" fill="#2a2ccc"/>
<polygon points="394.02,395.89 397.02,400.89 391.02,400.89" fill="#2a2ccc"/>
<polygon points="408.41,414.46 411.41,419.46 405.41,419.46" fill="#2a2ccc"/>
<polygon points="422.8,456.83 425.8,461.83 419.8,461.83" fill="#2a2ccc"/>
<path d="M293.26 394.56L294.34 394.56L295.42 394.56L296.5 394.56L297.58 394.56L298.66 394.56L299.74 394.56L300.82 394.56L301.9 394.56L302.98 394.56L304.06 394.56L305.14 394.56L306.22 394.56L307.3 394.56L308.38 394.56L309.46 394.56L310.54 394.56L311.61 394.56L312.69 394.56L313.77 394.56L314.85 394.56L315.93 394.56L317.01 394.56L318.09 394.56L319.17 394.56L320.25 394.56L321.33 394.56L322.41 394.56L323.49 394.56L324.57 394.56L325.65 394.56L326.73 394.56L327.81 394.56L328.89 394.56L329.97 394.56L331.05 394.56L332.12 394.56L333.2 394.56L334.28 394.56L335.36 394.56L336.44 394.56L337.52 394.56L338.6 394.56L339.68 394.56L340.76 394.56L341.84 394.56L342.92 394.56L344 394.56L345.08 394.56L346.16 394.56L347.24 394.56L348.32 394.57L349.4 394.57L350.48 394.57L351.56 394.57L352.63 394.57L353.71 394.57L354.79 394.57L355.87 394.57L356.95 394.57L358.03 394.57L359.11 394.58L360.19 394.58L361.27 394.58L362.35 394.59L363.43 394.59L364.51 394.59L365.59 394.6L366.67 394.61L367.75 394.61L368.83 394.62L369.91 394.64L370.99 394.65L372.06 394.66L373.14 394.68L374.22 394.7L375.3 394.73L376.38 394.76L377.46 394.79L378.54 394.84L379.62 394.89L380.7 394.94L381.78 395.01L382.86 395.09L383.94 395.19L385.02 395.3L386.1 395.44L387.18 395.59L388.26 395.78L389.34 395.99L390.42 396.25L391.5 396.54L392.57 396.89L393.65 397.3L394.73 397.78L395.81 398.34L396.89 398.99L397.97 399.74L399.05 400.62L400.13 401.62L401.21 402.78L402.29 404.11L403.37 405.62L404.45 407.34L405.53 409.26L406.61 411.42L407.69 413.81L408.77 416.43L409.85 419.28L410.93 422.34L412.01 425.61L413.08 429.03L414.16 432.59L415.24 436.23L416.32 439.9L417.4 443.55L418.48 447.14L419.56 450.62L420.64 453.95L421.72 457.09L422.8 460.02" stroke="#2a2ccc" stroke-width="1.6" fill="none"/>
<polygon points="293.3,396.88 296.3,391.88 290.3,391.88" fill="#3a8a3a"/>
<polygon points="307.69,396.29 310.69,391.29 304.69,391.29" fill="#3a8a3a"/>
<polygon points="322.08,397.15 325.08,392.16 319.08,392.16" fill="#3a8a3a"/>
<polygon points="336.46,395.18 339.46,390.19 333.46,390.19" fill="#3a8a3a"/>
<polygon points="350.85,398.63 353.85,393.64 347.85,393.64" fill="#3a8a3a"/>
<polygon points="365.24,394.94 368.24,389.94 362.24,389.94" fill="#3a8a3a"/>
<polygon points="379.63,396.13 382.63,391.13 376.63,391.13" fill="#3a8a3a"/>
<polygon points="394.02,396.58 397.02,391.58 391.02,391.58" fill="#3a8a3a"/>
<polygon points="408.41,402.71 411.41,397.71 405.41,397.71" fill="#3a8a3a"/>
<polygon points="422.8,434.28 425.8,429.29 419.8,429.29" fill="#3a8a3a"/>
<path d="M293.26 394.09L294.34 394.09L295.42 394.09L296.5 394.09L297.58 394.09L298.66 394.09L299.74 394.09L300.82 394.09L301.9 394.09L302.98 394.09L304.06 394.09L305.14 394.09L306.22 394.09L307.3 394.09L308.38 394.09L309.46 394.09L310.54 394.09L311.61 394.09L312.69 394.09L313.77 394.09L314.85 394.09L315.93 394.09L317.01 394.09L318.09 394.09L319.17 394.09L320.25 394.09L321.33 394.09L322.41 394.09L323.49 394.09L324.57 394.09L325.65 394.09L326.73 394.09L327.81 394.09L328.89 394.09L329.97 394.09L331.05 394.09L332.12 394.09L333.2 394.09L334.28 394.09L335.36 394.09L336.44 394.09L337.52 394.09L338.6 394.09L339.68 394.09L340.76 394.09L341.84 394.09L342.92 394.09L344 394.09L345.08 394.09L346.16 394.09L347.24 394.09L348.32 394.09L349.4 394.09L350.48 394.09L351.56 394.09L352.63 394.09L353.71 394.09L354.79 394.09L355.87 394.09L356.95 394.09L358.03 394.09L359.11 394.09L360.19 394.09L361.27 394.09L362.35 394.09L363.43 394.1L364.51 394.1L365.59 394.1L366.67 394.1L367.75 394.11L368.83 394.11L369.91 394.11L370.99 394.12L372.06 394.13L373.14 394.13L374.22 394.14L375.3 394.15L376.38 394.16L377.46 394.17L378.54 394.19L379.62 394.2L380.7 394.23L381.78 394.25L382.86 394.28L383.94 394.31L385.02 394.35L386.1 394.39L387.18 394.44L388.26 394.5L389.34 394.57L390.42 394.65L391.5 394.75L392.57 394.86L393.65 394.99L394.73 395.14L395.81 395.31L396.89 395.52L397.97 395.76L399.05 396.03L400.13 396.35L401.21 396.72L402.29 397.15L403.37 397.65L404.45 398.22L405.53 398.88L406.61 399.64L407.69 400.51L408.77 401.51L409.85 402.64L410.93 403.93L412.01 405.38L413.08 407L414.16 408.82L415.24 410.84L416.32 413.07L417.4 415.5L418.48 418.13L419.56 420.97L420.64 423.98L421.72 427.14L422.8 430.44" stroke="#3a8a3a" stroke-width="1.6" fill="none"/>
<polygon points="293.3,384.83 296.2,387.73 293.3,390.63 290.4,387.73" fill="#e69c50"/>
<polygon points="307.69,385.31 310.59,388.21 307.69,391.11 304.79,388.21" fill="#e69c50"/>
<polygon points="322.08,383.18 324.98,386.08 322.08,388.98 319.18,386.08" fill="#e69c50"/>
<polygon points="336.46,384.72 339.36,387.62 336.46,390.52 333.56,387.62" fill="#e69c50"/>
<polygon points="350.85,384.4 353.75,387.3 350.85,390.2 347.95,387.3" fill="#e69c50"/>
<polygon points="365.24,384.36 368.14,387.26 365.24,390.16 362.34,387.26" fill="#e69c50"/>
<polygon points="379.63,385.56 382.53,388.46 379.63,391.36 376.73,388.46" fill="#e69c50"/>
<polygon points="394.02,387.38 396.92,390.28 394.02,393.18 391.12,390.28" fill="#e69c50"/>
<polygon points="408.41,404.8 411.31,407.7 408.41,410.6 405.51,407.7" fill="#e69c50"/>
<polygon points="422.8,453.3 425.7,456.2 422.8,459.1 419.9,456.2" fill="#e69c50"/>
<path d="M293.26 387.4L294.34 387.4L295.42 387.4L296.5 387.4L297.58 387.4L298.66 387.4L299.74 387.4L300.82 387.4L301.9 387.4L302.98 387.4L304.06 387.4L305.14 387.4L306.22 387.4L307.3 387.4L308.38 387.4L309.46 387.4L310.54 387.4L311.61 387.4L312.69 387.4L313.77 387.4L314.85 387.4L315.93 387.4L317.01 387.4L318.09 387.4L319.17 387.4L320.25 387.4L321.33 387.4L322.41 387.4L323.49 387.4L324.57 387.4L325.65 387.4L326.73 387.4L327.81 387.4L328.89 387.4L329.97 387.4L331.05 387.4L332.12 387.4L333.2 387.4L334.28 387.4L335.36 387.4L336.44 387.4L337.52 387.4L338.6 387.4L339.68 387.4L340.76 387.4L341.84 387.4L342.92 387.4L344 387.4L345.08 387.4L346.16 387.4L347.24 387.4L348.32 387.4L349.4 387.41L350.48 387.41L351.56 387.41L352.63 387.41L353.71 387.41L354.79 387.41L355.87 387.41L356.95 387.42L358.03 387.42L359.11 387.42L360.19 387.43L361.27 387.43L362.35 387.44L363.43 387.44L364.51 387.45L365.59 387.46L366.67 387.47L367.75 387.48L368.83 387.49L369.91 387.51L370.99 387.53L372.06 387.55L373.14 387.57L374.22 387.6L375.3 387.64L376.38 387.68L377.46 387.72L378.54 387.78L379.62 387.84L380.7 387.91L381.78 388L382.86 388.1L383.94 388.22L385.02 388.35L386.1 388.51L387.18 388.7L388.26 388.91L389.34 389.16L390.42 389.46L391.5 389.79L392.57 390.19L393.65 390.64L394.73 391.17L395.81 391.77L396.89 392.47L397.97 393.28L399.05 394.2L400.13 395.25L401.21 396.45L402.29 397.81L403.37 399.35L404.45 401.08L405.53 403.01L406.61 405.15L407.69 407.52L408.77 410.11L409.85 412.92L410.93 415.94L412.01 419.15L413.08 422.54L414.16 426.07L415.24 429.71L416.32 433.41L417.4 437.13L418.48 440.83L419.56 444.46L420.64 447.98L421.72 451.36L422.8 454.56" stroke="#e69c50" stroke-width="1.6" fill="none"/>
<circle cx="293.3" cy="411.75" r="2.95" fill="none" stroke="#c8348e" stroke-width="1.1"/>
<circle cx="307.69" cy="413.19" r="2.95" fill="none" stroke="#c8348e" stroke-width="1.1"/>
<circle cx="322.08" cy="404.6" r="2.95" fill="none" stroke="#c8348e" stroke-width="1.1"/>
<circle cx="336.46" cy="403.84" r="2.95" fill="none" stroke="#c8348e" stroke-width="1.1"/>
<circle cx="350.85" cy="404.57" r="2.95" fill="none" stroke="#c8348e" stroke-width="1.1"/>
<circle cx="365.24" cy="402.68" r="2.95" fill="none" stroke="#c8348e" stroke-width="1.1"/>
<circle cx="379.63" cy="403.41" r="2.95" fill="none" stroke="#c8348e" stroke-width="1.1"/>
<circle cx="394.02" cy="402.88" r="2.95" fill="none" stroke="#c8348e" stroke-width="1.1"/>
<circle cx="408.41" cy="406.69" r="2.95" fill="none" stroke="#c8348e" stroke-width="1.1"/>
<circle cx="422.8" cy="454.09" r="2.95" fill="none" stroke="#c8348e" stroke-width="1.1"/>
<path d="M293.26 403.64L294.34 403.64L295.42 403.64L296.5 403.64L297.58 403.64L298.66 403.64L299.74 403.64L300.82 403.64L301.9 403.64L302.98 403.64L304.06 403.64L305.14 403.64L306.22 403.64L307.3 403.64L308.38 403.64L309.46 403.64L310.54 403.64L311.61 403.64L312.69 403.64L313.77 403.64L314.85 403.64L315.93 403.64L317.01 403.64L318.09 403.64L319.17 403.64L320.25 403.64L321.33 403.64L322.41 403.64L323.49 403.64L324.57 403.64L325.65 403.64L326.73 403.64L327.81 403.64L328.89 403.64L329.97 403.64L331.05 403.64L332.12 403.64L333.2 403.64L334.28 403.64L335.36 403.64L336.44 403.64L337.52 403.64L338.6 403.64L339.68 403.64L340.76 403.64L341.84 403.64L342.92 403.64L344 403.64L345.08 403.64L346.16 403.64L347.24 403.64L348.32 403.64L349.4 403.64L350.48 403.64L351.56 403.64L352.63 403.64L353.71 403.64L354.79 403.64L355.87 403.64L356.95 403.64L358.03 403.64L359.11 403.64L360.19 403.64L361.27 403.64L362.35 403.64L363.43 403.64L364.51 403.64L365.59 403.64L366.67 403.64L367.75 403.64L368.83 403.64L369.91 403.64L370.99 403.64L372.06 403.64L373.14 403.64L374.22 403.64L375.3 403.64L376.38 403.64L377.46 403.64L378.54 403.64L379.62 403.64L380.7 403.64L381.78 403.65L382.86 403.65L383.94 403.65L385.02 403.66L386.1 403.66L387.18 403.67L388.26 403.68L389.34 403.7L390.42 403.71L391.5 403.73L392.57 403.76L393.65 403.8L394.73 403.85L395.81 403.9L396.89 403.98L397.97 404.08L399.05 404.2L400.13 404.36L401.21 404.57L402.29 404.83L403.37 405.16L404.45 405.58L405.53 406.11L406.61 406.79L407.69 407.63L408.77 408.7L409.85 410.01L410.93 411.64L412.01 413.62L413.08 416.01L414.16 418.85L415.24 422.16L416.32 425.93L417.4 430.14L418.48 434.7L419.56 439.52L420.64 444.46L421.72 449.36L422.8 454.07" stroke="#c8348e" stroke-width="1.6" fill="none"/>
<rect x="290.55" y="393.44" width="5.5" height="5.5" fill="none" stroke="#6b2a2a" stroke-width="1.1"/>
<rect x="304.94" y="390.8" width="5.5" height="5.5" fill="none" stroke="#6b2a2a" stroke-width="1.1"/>
<rect x="319.33" y="390.01" width="5.5" height="5.5" fill="none" stroke="#6b2a2a" stroke-width="1.1"/>
<rect x="333.71" y="392.14" width="5.5" height="5.5" fill="none" stroke="#6b2a2a" stroke-width="1.1"/>
<rect x="348.1" y="390.11" width="5.5" height="5.5" fill="none" stroke="#6b2a2a" stroke-width="1.1"/>
<rect x="362.49" y="392.09" width="5.5" height="5.5" fill="none" stroke="#6b2a2a" stroke-width="1.1"/>
<rect x="376.88" y="391.43" width="5.5" height="5.5" fill="none" stroke="#6b2a2a" stroke-width="1.1"/>
<rect x="391.27" y="390.88" width="5.5" height="5.5" fill="none" stroke="#6b2a2a" stroke-width="1.1"/>
<rect x="405.66" y="398.02" width="5.5" height="5.5" fill="none" stroke="#6b2a2a" stroke-width="1.1"/>
<rect x="420.05" y="422.55" width="5.5" height="5.5" fill="none" stroke="#6b2a2a" stroke-width="1.1"/>
<path d="M293.26 394.56L294.34 394.56L295.42 394.56L296.5 394.56L297.58 394.56L298.66 394.56L299.74 394.56L300.82 394.56L301.9 394.56L302.98 394.56L304.06 394.56L305.14 394.56L306.22 394.56L307.3 394.56L308.38 394.56L309.46 394.56L310.54 394.56L311.61 394.56L312.69 394.56L313.77 394.56L314.85 394.56L315.93 394.56L317.01 394.56L318.09 394.56L319.17 394.56L320.25 394.56L321.33 394.56L322.41 394.56L323.49 394.56L324.57 394.56L325.65 394.56L326.73 394.56L327.81 394.56L328.89 394.56L329.97 394.56L331.05 394.56L332.12 394.56L333.2 394.56L334.28 394.56L335.36 394.56L336.44 394.56L337.52 394.56L338.6 394.56L339.68 394.56L340.76 394.56L341.84 394.56L342.92 394.56L344 394.56L345.08 394.56L346.16 394.56L347.24 394.56L348.32 394.56L349.4 394.56L350.48 394.56L351.56 394.56L352.63 394.56L353.71 394.56L354.79 394.56L355.87 394.57L356.95 394.57L358.03 394.57L359.11 394.57L360.19 394.57L361.27 394.57L362.35 394.57L363.43 394.57L364.51 394.57L365.59 394.57L366.67 394.58L367.75 394.58L368.83 394.58L369.91 394.58L370.99 394.59L372.06 394.59L373.14 394.6L374.22 394.6L375.3 394.61L376.38 394.62L377.46 394.62L378.54 394.63L379.62 394.65L380.7 394.66L381.78 394.68L382.86 394.7L383.94 394.72L385.02 394.75L386.1 394.78L387.18 394.81L388.26 394.85L389.34 394.9L390.42 394.96L391.5 395.03L392.57 395.11L393.65 395.2L394.73 395.3L395.81 395.43L396.89 395.57L397.97 395.74L399.05 395.93L400.13 396.16L401.21 396.43L402.29 396.73L403.37 397.09L404.45 397.5L405.53 397.98L406.61 398.53L407.69 399.17L408.77 399.9L409.85 400.73L410.93 401.69L412.01 402.78L413.08 404.02L414.16 405.42L415.24 407L416.32 408.76L417.4 410.72L418.48 412.88L419.56 415.25L420.64 417.82L421.72 420.59L422.8 423.54" stroke="#6b2a2a" stroke-width="1.6" fill="none"/>
<polygon points="293.3,385.21 296.3,390.2 290.3,390.2" fill="none" stroke="#f4f09a" stroke-width="1.1"/>
<polygon points="307.69,384.45 310.69,389.44 304.69,389.44" fill="none" stroke="#f4f09a" stroke-width="1.1"/>
<polygon points="322.08,385.19 325.08,390.18 319.08,390.18" fill="none" stroke="#f4f09a" stroke-width="1.1"/>
<polygon points="336.46,384.57 339.46,389.57 333.46,389.57" fill="none" stroke="#f4f09a" stroke-width="1.1"/>
<polygon points="350.85,387.62 353.85,392.61 347.85,392.61" fill="none" stroke="#f4f09a" stroke-width="1.1"/>
<polygon points="365.24,385.84 368.24,390.83 362.24,390.83" fill="none" stroke="#f4f09a" stroke-width="1.1"/>
<polygon points="379.63,386.48 382.63,391.47 376.63,391.47" fill="none" stroke="#f4f09a" stroke-width="1.1"/>
<polygon points="394.02,387.69 397.02,392.69 391.02,392.69" fill="none" stroke="#f4f09a" stroke-width="1.1"/>
<polygon points="408.41,389.82 411.41,394.81 405.41,394.81" fill="none" stroke="#f4f09a" stroke-width="1.1"/>
<polygon points="422.8,416.21 425.8,421.2 419.8,421.2" fill="none" stroke="#f4f09a" stroke-width="1.1"/>
<path d="M293.26 388.83L294.34 388.83L295.42 388.83L296.5 388.83L297.58 388.83L298.66 388.83L299.74 388.83L300.82 388.83L301.9 388.83L302.98 388.83L304.06 388.83L305.14 388.83L306.22 388.83L307.3 388.83L308.38 388.83L309.46 388.83L310.54 388.83L311.61 388.83L312.69 388.83L313.77 388.83L314.85 388.83L315.93 388.83L317.01 388.83L318.09 388.83L319.17 388.83L320.25 388.83L321.33 388.83L322.41 388.83L323.49 388.83L324.57 388.83L325.65 388.83L326.73 388.83L327.81 388.83L328.89 388.83L329.97 388.83L331.05 388.83L332.12 388.83L333.2 388.83L334.28 388.83L335.36 388.83L336.44 388.83L337.52 388.83L338.6 388.83L339.68 388.83L340.76 388.83L341.84 388.83L342.92 388.83L344 388.83L345.08 388.83L346.16 388.83L347.24 388.83L348.32 388.83L349.4 388.83L350.48 388.83L351.56 388.83L352.63 388.83L353.71 388.83L354.79 388.83L355.87 388.84L356.95 388.84L358.03 388.84L359.11 388.84L360.19 388.84L361.27 388.84L362.35 388.84L363.43 388.84L364.51 388.84L365.59 388.84L366.67 388.85L367.75 388.85L368.83 388.85L369.91 388.85L370.99 388.86L372.06 388.86L373.14 388.87L374.22 388.87L375.3 388.88L376.38 388.88L377.46 388.89L378.54 388.9L379.62 388.92L380.7 388.93L381.78 388.95L382.86 388.97L383.94 388.99L385.02 389.01L386.1 389.04L387.18 389.08L388.26 389.12L389.34 389.17L390.42 389.23L391.5 389.29L392.57 389.37L393.65 389.46L394.73 389.57L395.81 389.69L396.89 389.83L397.97 390L399.05 390.2L400.13 390.42L401.21 390.69L402.29 390.99L403.37 391.35L404.45 391.76L405.53 392.23L406.61 392.78L407.69 393.42L408.77 394.15L409.85 394.99L410.93 395.95L412.01 397.04L413.08 398.29L414.16 399.7L415.24 401.3L416.32 403.08L417.4 405.07L418.48 407.28L419.56 409.7L420.64 412.34L421.72 415.2L422.8 418.26" stroke="#f4f09a" stroke-width="1.6" fill="none"/>
<polygon points="293.3,393.69 296.3,388.7 290.3,388.7" fill="none" stroke="#a6e6f2" stroke-width="1.1"/>
<polygon points="307.69,395.94 310.69,390.95 304.69,390.95" fill="none" stroke="#a6e6f2" stroke-width="1.1"/>
<polygon points="322.08,395.67 325.08,390.67 319.08,390.67" fill="none" stroke="#a6e6f2" stroke-width="1.1"/>
<polygon points="336.46,394 339.46,389 333.46,389" fill="none" stroke="#a6e6f2" stroke-width="1.1"/>
<polygon points="350.85,395.05 353.85,390.06 347.85,390.06" fill="none" stroke="#a6e6f2" stroke-width="1.1"/>
<polygon points="365.24,392.82 368.24,387.82 362.24,387.82" fill="none" stroke="#a6e6f2" stroke-width="1.1"/>
<polygon points="379.63,393.31 382.63,388.32 376.63,388.32" fill="none" stroke="#a6e6f2" stroke-width="1.1"/>
<polygon points="394.02,393.11 397.02,388.11 391.02,388.11" fill="none" stroke="#a6e6f2" stroke-width="1.1"/>
<polygon points="408.41,395.54 411.41,390.55 405.41,390.55" fill="none" stroke="#a6e6f2" stroke-width="1.1"/>
<polygon points="422.8,399.29 425.8,394.3 419.8,394.3" fill="none" stroke="#a6e6f2" stroke-width="1.1"/>
<path d="M293.26 391.7L294.34 391.7L295.42 391.7L296.5 391.7L297.58 391.7L298.66 391.7L299.74 391.7L300.82 391.7L301.9 391.7L302.98 391.7L304.06 391.7L305.14 391.7L306.22 391.7L307.3 391.7L308.38 391.7L309.46 391.7L310.54 391.7L311.61 391.7L312.69 391.7L313.77 391.7L314.85 391.7L315.93 391.7L317.01 391.7L318.09 391.7L319.17 391.7L320.25 391.7L321.33 391.7L322.41 391.7L323.49 391.7L324.57 391.7L325.65 391.7L326.73 391.7L327.81 391.7L328.89 391.7L329.97 391.7L331.05 391.7L332.12 391.7L333.2 391.7L334.28 391.7L335.36 391.7L336.44 391.7L337.52 391.7L338.6 391.7L339.68 391.7L340.76 391.7L341.84 391.7L342.92 391.7L344 391.7L345.08 391.7L346.16 391.7L347.24 391.7L348.32 391.7L349.4 391.7L350.48 391.7L351.56 391.7L352.63 391.7L353.71 391.7L354.79 391.7L355.87 391.7L356.95 391.7L358.03 391.7L359.11 391.7L360.19 391.7L361.27 391.7L362.35 391.7L363.43 391.7L364.51 391.7L365.59 391.7L366.67 391.7L367.75 391.7L368.83 391.7L369.91 391.7L370.99 391.7L372.06 391.7L373.14 391.7L374.22 391.7L375.3 391.7L376.38 391.71L377.46 391.71L378.54 391.71L379.62 391.71L380.7 391.71L381.78 391.72L382.86 391.72L383.94 391.72L385.02 391.73L386.1 391.73L387.18 391.74L388.26 391.74L389.34 391.75L390.42 391.76L391.5 391.77L392.57 391.78L393.65 391.8L394.73 391.81L395.81 391.83L396.89 391.85L397.97 391.88L399.05 391.91L400.13 391.95L401.21 391.99L402.29 392.04L403.37 392.09L404.45 392.16L405.53 392.24L406.61 392.33L407.69 392.43L408.77 392.56L409.85 392.7L410.93 392.87L412.01 393.06L413.08 393.29L414.16 393.55L415.24 393.86L416.32 394.21L417.4 394.62L418.48 395.1L419.56 395.65L420.64 396.28L421.72 397.01L422.8 397.85" stroke="#a6e6f2" stroke-width="1.6" fill="none"/>
<polygon points="293.3,389.62 296.2,392.52 293.3,395.42 290.4,392.52" fill="none" stroke="#8c8c8c" stroke-width="1.1"/>
<polygon points="307.69,391.97 310.59,394.87 307.69,397.77 304.79,394.87" fill="none" stroke="#8c8c8c" stroke-width="1.1"/>
<polygon points="322.08,391.34 324.98,394.24 322.08,397.14 319.18,394.24" fill="none" stroke="#8c8c8c" stroke-width="1.1"/>
<polygon points="336.46,392.57 339.36,395.47 336.46,398.37 333.56,395.47" fill="none" stroke="#8c8c8c" stroke-width="1.1"/>
<polygon points="350.85,389.3 353.75,392.2 350.85,395.1 347.95,392.2" fill="none" stroke="#8c8c8c" stroke-width="1.1"/>
<polygon points="365.24,392.52 368.14,395.42 365.24,398.32 362.34,395.42" fill="none" stroke="#8c8c8c" stroke-width="1.1"/>
<polygon points="379.63,390.62 382.53,393.52 379.63,396.42 376.73,393.52" fill="none" stroke="#8c8c8c" stroke-width="1.1"/>
<polygon points="394.02,391.57 396.92,394.47 394.02,397.37 391.12,394.47" fill="none" stroke="#8c8c8c" stroke-width="1.1"/>
<polygon points="408.41,396.09 411.31,398.99 408.41,401.89 405.51,398.99" fill="none" stroke="#8c8c8c" stroke-width="1.1"/>
<polygon points="422.8,423.07 425.7,425.97 422.8,428.87 419.9,425.97" fill="none" stroke="#8c8c8c" stroke-width="1.1"/>
<path d="M293.26 394.09L294.34 394.09L295.42 394.09L296.5 394.09L297.58 394.09L298.66 394.09L299.74 394.09L300.82 394.09L301.9 394.09L302.98 394.09L304.06 394.09L305.14 394.09L306.22 394.09L307.3 394.09L308.38 394.09L309.46 394.09L310.54 394.09L311.61 394.09L312.69 394.09L313.77 394.09L314.85 394.09L315.93 394.09L317.01 394.09L318.09 394.09L319.17 394.09L320.25 394.09L321.33 394.09L322.41 394.09L323.49 394.09L324.57 394.09L325.65 394.09L326.73 394.09L327.81 394.09L328.89 394.09L329.97 394.09L331.05 394.09L332.12 394.09L333.2 394.09L334.28 394.09L335.36 394.09L336.44 394.09L337.52 394.09L338.6 394.09L339.68 394.09L340.76 394.09L341.84 394.09L342.92 394.09L344 394.09L345.08 394.09L346.16 394.09L347.24 394.09L348.32 394.09L349.4 394.09L350.48 394.09L351.56 394.09L352.63 394.09L353.71 394.09L354.79 394.09L355.87 394.09L356.95 394.09L358.03 394.09L359.11 394.09L360.19 394.09L361.27 394.09L362.35 394.09L363.43 394.09L364.51 394.1L365.59 394.1L366.67 394.1L367.75 394.1L368.83 394.11L369.91 394.11L370.99 394.11L372.06 394.12L373.14 394.12L374.22 394.13L375.3 394.14L376.38 394.14L377.46 394.15L378.54 394.17L379.62 394.18L380.7 394.2L381.78 394.22L382.86 394.24L383.94 394.26L385.02 394.29L386.1 394.33L387.18 394.37L388.26 394.42L389.34 394.47L390.42 394.54L391.5 394.61L392.57 394.7L393.65 394.8L394.73 394.92L395.81 395.06L396.89 395.23L397.97 395.42L399.05 395.64L400.13 395.9L401.21 396.19L402.29 396.54L403.37 396.94L404.45 397.4L405.53 397.94L406.61 398.56L407.69 399.27L408.77 400.09L409.85 401.02L410.93 402.09L412.01 403.3L413.08 404.67L414.16 406.21L415.24 407.94L416.32 409.86L417.4 411.99L418.48 414.32L419.56 416.86L420.64 419.6L421.72 422.53L422.8 425.63" stroke="#8c8c8c" stroke-width="1.6" fill="none"/>
<path d="M290.7 398.84L295.9 404.04M295.9 398.84L290.7 404.04" stroke="#6a2c8c" stroke-width="1.2" fill="none"/>
<path d="M305.09 400.56L310.29 405.76M310.29 400.56L305.09 405.76" stroke="#6a2c8c" stroke-width="1.2" fill="none"/>
<path d="M319.48 404.86L324.68 410.06M324.68 404.86L319.48 410.06" stroke="#6a2c8c" stroke-width="1.2" fill="none"/>
<path d="M333.86 396.33L339.06 401.53M339.06 396.33L333.86 401.53" stroke="#6a2c8c" stroke-width="1.2" fill="none"/>
<path d="M348.25 396.94L353.45 402.14M353.45 396.94L348.25 402.14" stroke="#6a2c8c" stroke-width="1.2" fill="none"/>
<path d="M362.64 396.26L367.84 401.46M367.84 396.26L362.64 401.46" stroke="#6a2c8c" stroke-width="1.2" fill="none"/>
<path d="M377.03 399.07L382.23 404.27M382.23 399.07L377.03 404.27" stroke="#6a2c8c" stroke-width="1.2" fill="none"/>
<path d="M391.42 384.8L396.62 390M396.62 384.8L391.42 390" stroke="#6a2c8c" stroke-width="1.2" fill="none"/>
<path d="M405.81 399.96L411.01 405.16M411.01 399.96L405.81 405.16" stroke="#6a2c8c" stroke-width="1.2" fill="none"/>
<path d="M420.2 442.47L425.4 447.67M425.4 442.47L420.2 447.67" stroke="#6a2c8c" stroke-width="1.2" fill="none"/>
<path d="M293.26 400.77L294.34 400.77L295.42 400.77L296.5 400.77L297.58 400.77L298.66 400.77L299.74 400.77L300.82 400.77L301.9 400.77L302.98 400.77L304.06 400.77L305.14 400.77L306.22 400.77L307.3 400.77L308.38 400.77L309.46 400.77L310.54 400.77L311.61 400.77L312.69 400.77L313.77 400.77L314.85 400.77L315.93 400.77L317.01 400.77L318.09 400.77L319.17 400.77L320.25 400.77L321.33 400.77L322.41 400.77L323.49 400.77L324.57 400.77L325.65 400.77L326.73 400.77L327.81 400.77L328.89 400.77L329.97 400.77L331.05 400.77L332.12 400.77L333.2 400.77L334.28 400.77L335.36 400.77L336.44 400.77L337.52 400.77L338.6 400.77L339.68 400.77L340.76 400.77L341.84 400.77L342.92 400.77L344 400.77L345.08 400.77L346.16 400.77L347.24 400.77L348.32 400.77L349.4 400.77L350.48 400.77L351.56 400.77L352.63 400.77L353.71 400.77L354.79 400.77L355.87 400.77L356.95 400.77L358.03 400.77L359.11 400.77L360.19 400.77L361.27 400.77L362.35 400.77L363.43 400.77L364.51 400.77L365.59 400.77L366.67 400.77L367.75 400.77L368.83 400.77L369.91 400.77L370.99 400.77L372.06 400.77L373.14 400.77L374.22 400.77L375.3 400.77L376.38 400.77L377.46 400.77L378.54 400.77L379.62 400.77L380.7 400.77L381.78 400.77L382.86 400.77L383.94 400.77L385.02 400.77L386.1 400.77L387.18 400.77L388.26 400.77L389.34 400.77L390.42 400.77L391.5 400.77L392.57 400.77L393.65 400.77L394.73 400.77L395.81 400.77L396.89 400.77L397.97 400.77L399.05 400.77L400.13 400.77L401.21 400.77L402.29 400.77L403.37 400.78L404.45 400.78L405.53 400.79L406.61 400.81L407.69 400.83L408.77 400.88L409.85 400.95L410.93 401.07L412.01 401.27L413.08 401.6L414.16 402.16L415.24 403.09L416.32 404.59L417.4 407L418.48 410.74L419.56 416.26L420.64 423.85L421.72 433.35L422.8 443.9" stroke="#6a2c8c" stroke-width="1.6" fill="none"/>
<text x="453.4" y="366" font-size="9.4" text-anchor="start" font-weight="bold" >AML</text>
<circle cx="440" cy="376.3" r="2.81" fill="#000000"/>
<text x="453.4" y="379.6" font-size="9.3" text-anchor="start" font-weight="normal" >1</text>
<rect x="437.35" y="387.15" width="5.3" height="5.3" fill="#e02428"/>
<text x="453.4" y="393.1" font-size="9.3" text-anchor="start" font-weight="normal" >2</text>
<polygon points="440,400.55 443.06,405.64 436.94,405.64" fill="#2a2ccc"/>
<text x="453.4" y="406.6" font-size="9.3" text-anchor="start" font-weight="normal" >3</text>
<polygon points="440,419.55 443.06,414.46 436.94,414.46" fill="#3a8a3a"/>
<text x="453.4" y="420.1" font-size="9.3" text-anchor="start" font-weight="normal" >4</text>
<polygon points="440,427.34 442.96,430.3 440,433.26 437.04,430.3" fill="#e69c50"/>
<text x="453.4" y="433.6" font-size="9.3" text-anchor="start" font-weight="normal" >5</text>
<circle cx="440" cy="443.8" r="3.01" fill="none" stroke="#c8348e" stroke-width="1.1"/>
<text x="453.4" y="447.1" font-size="9.3" text-anchor="start" font-weight="normal" >6</text>
<rect x="437.19" y="454.5" width="5.61" height="5.61" fill="none" stroke="#6b2a2a" stroke-width="1.1"/>
<text x="453.4" y="460.6" font-size="9.3" text-anchor="start" font-weight="normal" >7</text>
<polygon points="440,468.05 443.06,473.14 436.94,473.14" fill="none" stroke="#f4f09a" stroke-width="1.1"/>
<text x="453.4" y="474.1" font-size="9.3" text-anchor="start" font-weight="normal" >8</text>
<polygon points="440,487.05 443.06,481.96 436.94,481.96" fill="none" stroke="#a6e6f2" stroke-width="1.1"/>
<text x="453.4" y="487.6" font-size="9.3" text-anchor="start" font-weight="normal" >9</text>
<polygon points="440,494.84 442.96,497.8 440,500.76 437.04,497.8" fill="none" stroke="#8c8c8c" stroke-width="1.1"/>
<text x="453.4" y="501.1" font-size="9.3" text-anchor="start" font-weight="normal" >10</text>
<path d="M437.35 508.65L442.65 513.95M442.65 508.65L437.35 513.95" stroke="#6a2c8c" stroke-width="1.2" fill="none"/>
<text x="453.4" y="514.6" font-size="9.3" text-anchor="start" font-weight="normal" >11</text>
</svg></body></html>
